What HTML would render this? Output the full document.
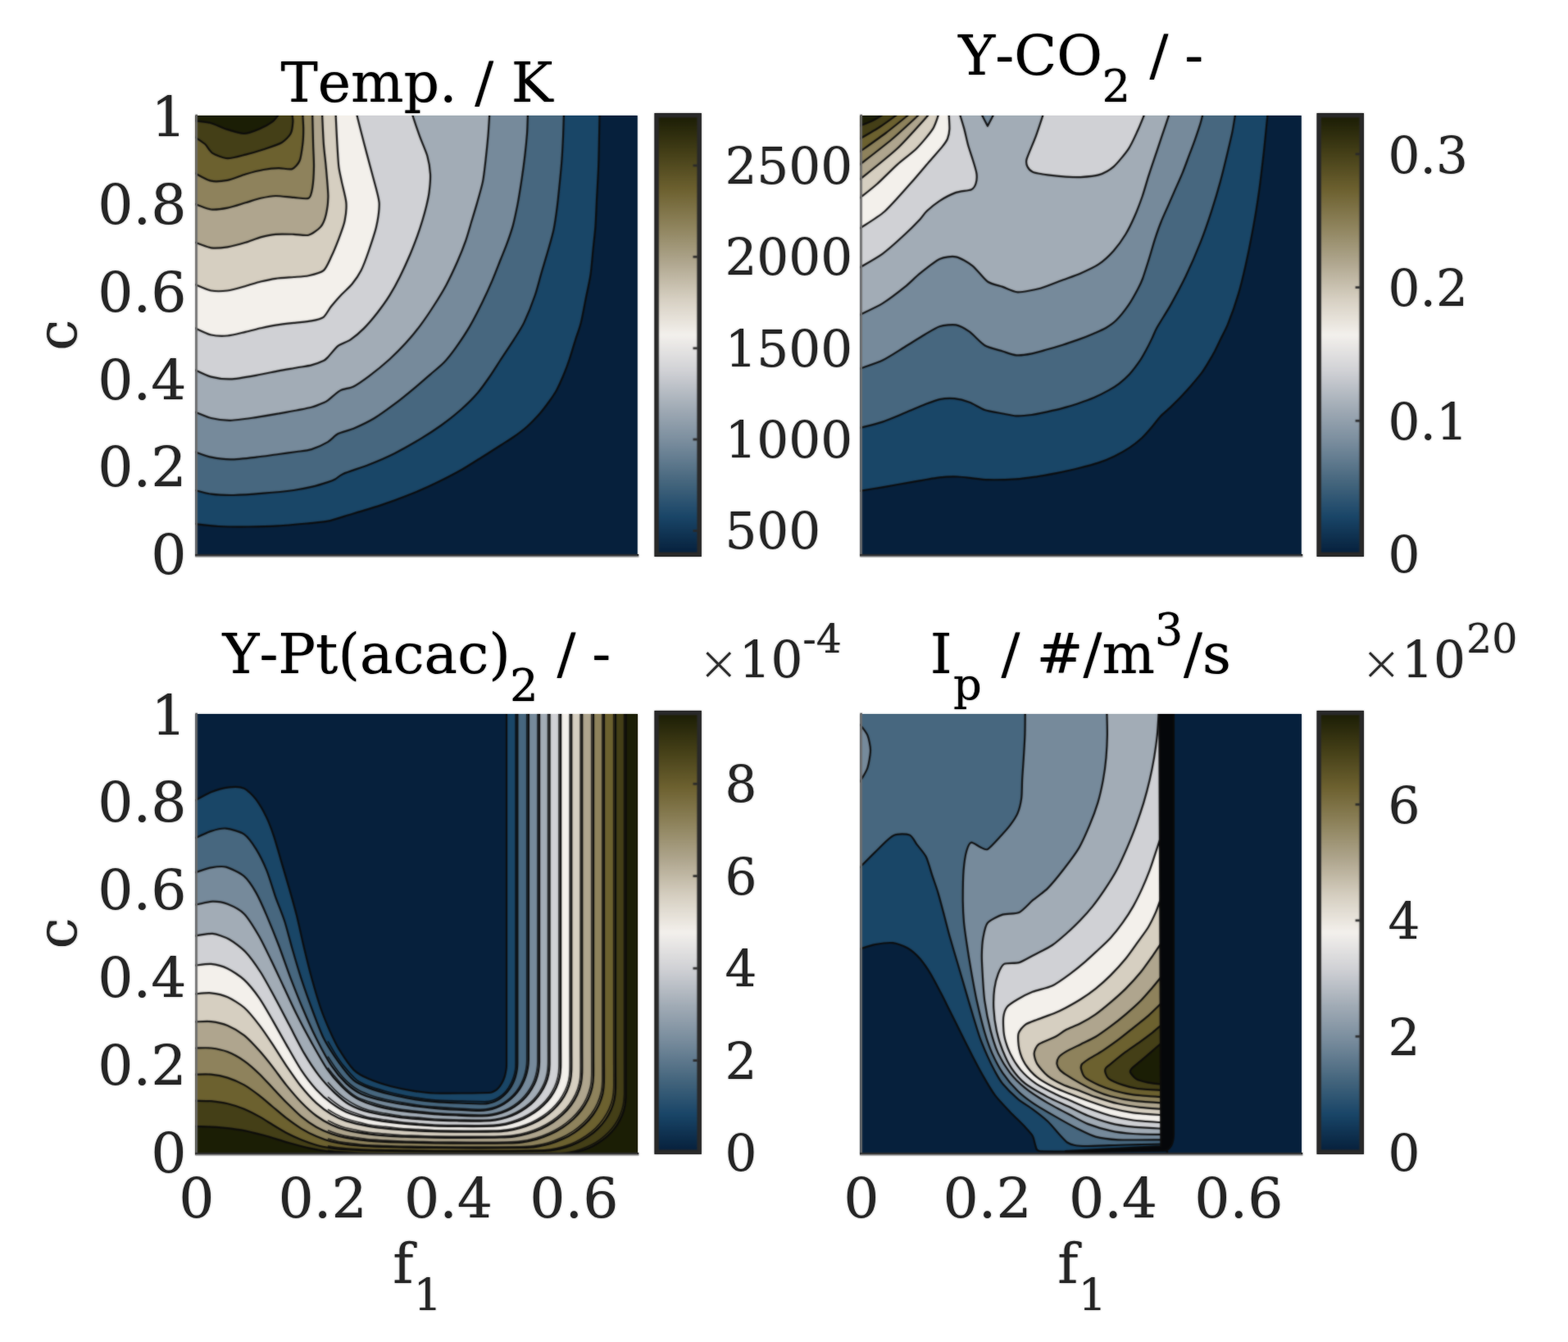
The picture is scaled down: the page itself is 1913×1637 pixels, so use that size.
<!DOCTYPE html>
<html lang="en"><head><meta charset="utf-8"><title>Flamelet tables</title>
<style>
html,body{margin:0;padding:0;background:#fff;}
body{width:1913px;height:1637px;overflow:hidden;}
svg{display:block;}
#soft{filter:blur(1px);opacity:0.6;}
text{font-family:"DejaVu Serif","Liberation Serif",serif;font-kerning:none;}
.t{fill:#000;font-size:68px;}
.k{fill:#262626;font-size:68px;}
.c{font-size:61.2px;}
.s{font-size:54.4px;}
.s2{font-size:49px;}
.x{font-family:"DejaVu Sans Light","DejaVu Sans","Liberation Sans",sans-serif;font-size:59px;fill:#2e2e2e;}
.f path{stroke:#0b0b0b;stroke-width:2.20;stroke-linejoin:round;}
</style></head><body>
<svg xmlns="http://www.w3.org/2000/svg" width="1913" height="1637" viewBox="0 0 1913 1637">
<defs>
<linearGradient id="cb" x1="0" y1="1" x2="0" y2="0"><stop offset="0.0000" stop-color="#07213D"/><stop offset="0.0833" stop-color="#1A4668"/><stop offset="0.1667" stop-color="#48687F"/><stop offset="0.2500" stop-color="#778B9C"/><stop offset="0.3333" stop-color="#A2ACB6"/><stop offset="0.4167" stop-color="#D0D1D5"/><stop offset="0.5000" stop-color="#F3F0EC"/><stop offset="0.5833" stop-color="#D6CFC1"/><stop offset="0.6667" stop-color="#AFA68E"/><stop offset="0.7500" stop-color="#8E835C"/><stop offset="0.8333" stop-color="#6D6130"/><stop offset="0.9167" stop-color="#454018"/><stop offset="1.0000" stop-color="#1C1E06"/></linearGradient>
<clipPath id="cp0"><rect x="238.3" y="141.1" width="539.5" height="537.6"/></clipPath>
<clipPath id="cp1"><rect x="1049.3" y="141.1" width="538.5" height="537.6"/></clipPath>
<clipPath id="cp2"><rect x="238.3" y="871.1" width="539.5" height="537.5"/></clipPath>
<clipPath id="cp3"><rect x="1049.3" y="871.1" width="538.5" height="537.5"/></clipPath>
</defs>
<rect width="1913" height="1637" fill="#fff"/>
<g id="all">
<g class="f" clip-path="url(#cp0)">
<rect x="238.3" y="139.6" width="539.5" height="539.1" fill="#07213D" stroke="none"/>
<path fill="#1A4668" d="M233.3,639.2L238.3,639.2C241.9,639.6 258.6,641.6 266.7,642.0C274.8,642.4 294.1,642.6 303.3,642.5C312.5,642.4 330.8,641.9 340.0,641.4C349.2,640.9 369.1,639.0 376.6,638.3C384.1,637.6 393.9,637.0 400.0,635.7C406.1,634.4 417.3,630.6 425.1,628.2C432.9,625.9 453.3,620.0 462.7,616.9C472.1,613.8 491.8,606.6 500.4,603.1C509.0,599.6 523.9,593.1 531.7,589.3C539.5,585.5 556.0,577.0 563.1,573.0C570.2,569.0 582.2,561.2 588.2,557.5C594.2,553.8 606.2,546.1 611.0,543.0C615.8,539.9 622.6,535.8 626.6,533.0C630.6,530.2 639.0,524.0 642.9,520.5C646.8,517.0 654.4,509.1 657.9,505.2C661.4,501.3 667.9,492.6 670.5,489.0C673.1,485.4 676.9,479.9 679.0,476.0C681.1,472.1 685.5,462.2 687.5,457.5C689.5,452.8 693.0,443.4 694.8,438.0C696.6,432.6 700.4,419.9 702.1,414.3C703.9,408.7 707.1,400.2 708.8,393.4C710.5,386.6 714.0,367.3 715.5,360.0C717.0,352.7 719.5,341.9 720.5,335.0C721.5,328.1 722.8,312.3 723.5,305.0C724.2,297.7 725.8,284.7 726.4,276.6C727.0,268.5 727.7,249.2 728.2,240.0C728.7,230.8 729.8,212.5 730.1,203.3C730.5,194.1 730.8,174.7 731.0,166.7C731.2,158.7 731.4,143.0 731.5,139.6L731.5,134.6L233.3,134.6Z"/>
<path fill="#48687F" d="M233.3,598.0L238.3,598.0C240.7,598.6 251.7,601.9 257.5,602.6C263.3,603.4 277.0,604.1 285.0,604.0C293.0,603.9 312.4,602.5 321.6,601.7C330.8,601.0 351.0,599.0 358.3,598.0C365.6,597.0 374.8,595.1 380.0,593.9C385.2,592.7 396.4,589.3 400.0,588.1C403.6,586.9 406.6,585.8 409.0,584.5C411.4,583.2 413.7,580.2 418.8,578.0C423.9,575.8 442.3,569.8 450.2,566.7C458.1,563.6 473.8,556.8 481.6,552.9C489.4,549.0 505.8,539.6 512.9,535.4C519.9,531.2 531.7,523.5 538.0,519.0C544.3,514.5 557.5,504.0 563.1,499.0C568.7,494.0 578.8,483.9 583.0,479.0C587.2,474.1 593.6,464.9 597.0,460.0C600.4,455.1 606.3,445.7 610.0,440.0C613.7,434.3 623.2,420.1 626.9,414.3C630.6,408.5 636.2,400.2 639.4,393.4C642.6,386.6 650.2,367.6 652.8,360.0C655.4,352.4 658.5,339.8 660.5,333.0C662.5,326.2 666.6,312.6 668.5,306.0C670.4,299.4 674.1,287.0 675.5,280.0C676.9,273.0 679.1,257.3 680.0,250.0C680.9,242.7 682.3,228.6 683.0,221.6C683.7,214.6 685.0,201.0 685.5,194.1C686.0,187.2 686.7,173.5 687.0,166.7C687.3,159.9 687.8,143.0 687.9,139.6L687.9,134.6L233.3,134.6Z"/>
<path fill="#778B9C" d="M233.3,551.3L238.3,551.3C240.7,552.1 252.1,556.6 257.5,557.7C262.9,558.8 274.4,560.4 281.3,560.4C288.2,560.4 305.2,558.5 312.5,557.7C319.8,556.9 333.8,554.8 340.0,554.0C346.2,553.2 357.0,551.7 362.0,551.0C367.0,550.3 375.2,549.6 380.0,548.1C384.8,546.6 395.9,541.5 400.0,539.1C404.1,536.7 408.6,531.1 412.5,529.1C416.4,527.1 425.9,525.1 431.4,522.8C436.9,520.4 450.2,514.1 456.5,510.3C462.8,506.5 475.3,497.4 481.6,492.7C487.9,488.0 501.1,477.2 506.6,472.6C512.1,468.1 521.1,460.1 525.5,456.3C529.9,452.5 537.9,446.1 541.8,442.0C545.7,437.9 552.9,428.6 556.8,423.1C560.7,417.6 569.2,404.8 573.1,398.1C577.0,391.4 584.7,376.3 588.2,369.2C591.7,362.1 598.0,348.2 600.8,341.6C603.6,335.0 608.6,322.0 610.8,316.5C613.0,311.0 616.4,302.9 618.3,297.7C620.2,292.5 624.1,281.2 625.8,275.1C627.4,269.0 630.1,256.2 631.5,249.1C632.9,242.0 635.5,225.3 636.6,218.0C637.7,210.7 639.5,197.4 640.3,190.5C641.1,183.6 642.5,169.4 643.0,163.0C643.5,156.6 643.8,142.5 643.9,139.6L643.9,134.6L233.3,134.6Z"/>
<path fill="#A2ACB6" d="M233.3,502.7L238.3,502.7C240.7,503.6 252.1,508.7 257.5,510.0C262.9,511.3 274.4,512.9 281.3,512.8C288.2,512.7 305.2,510.1 312.5,509.1C319.8,508.1 333.8,505.6 340.0,504.5C346.2,503.4 357.0,501.5 362.0,500.5C367.0,499.5 375.9,497.9 380.0,496.8C384.1,495.7 392.2,492.4 394.7,491.3C397.2,490.2 397.4,490.2 400.0,488.3C402.6,486.4 411.2,478.5 415.1,476.4C419.0,474.3 427.0,473.6 431.4,471.4C435.8,469.2 444.7,462.9 450.2,458.8C455.7,454.7 469.7,443.3 475.3,438.2C480.9,433.1 490.7,423.3 495.4,418.1C500.1,412.9 508.7,402.4 512.9,396.8C517.1,391.2 525.3,379.1 529.2,373.0C533.1,366.9 540.7,354.6 544.3,347.9C547.9,341.1 555.1,325.8 558.1,319.0C561.1,312.2 565.9,300.2 568.1,293.9C570.3,287.6 574.0,274.4 575.7,268.8C577.4,263.2 579.9,255.0 581.6,249.1C583.3,243.2 587.6,228.5 589.0,221.6C590.4,214.7 591.8,201.0 592.6,194.1C593.4,187.2 594.8,173.5 595.4,166.7C596.0,159.9 597.0,143.0 597.2,139.6L597.2,134.6L233.3,134.6Z"/>
<path fill="#D0D1D5" d="M233.3,451.4L238.3,451.4C240.7,452.4 252.1,458.2 257.5,459.6C262.9,461.0 274.4,462.6 281.3,462.4C288.2,462.2 305.2,459.1 312.5,457.8C319.8,456.5 333.8,453.5 340.0,452.3C346.2,451.1 357.0,449.4 362.0,448.5C367.0,447.6 375.9,446.5 380.0,445.4C384.1,444.3 392.2,441.2 394.7,440.0C397.2,438.8 397.8,438.0 400.0,435.7C402.2,433.4 409.1,424.6 412.5,421.9C415.9,419.2 423.7,417.1 427.6,414.4C431.5,411.7 439.8,404.7 443.9,400.6C448.0,396.5 456.3,386.7 460.2,381.7C464.1,376.7 471.9,365.9 475.3,360.4C478.8,354.9 484.7,344.1 487.8,337.8C490.9,331.5 497.7,316.5 500.4,310.2C503.1,303.9 507.3,292.8 509.2,287.6C511.1,282.4 514.0,273.5 515.4,268.8C516.8,264.1 519.5,254.2 520.5,250.0C521.5,245.8 522.9,239.7 523.5,235.0C524.1,230.3 525.3,218.1 525.0,212.5C524.7,206.9 523.0,196.2 521.4,190.5C519.8,184.8 514.5,173.1 512.2,166.7C509.9,160.3 504.1,143.0 503.0,139.6L503.0,134.6L233.3,134.6Z"/>
<path fill="#F3F0EC" d="M233.3,400.3L238.3,400.3C240.7,401.3 252.6,407.4 257.5,408.5C262.4,409.6 272.3,409.9 277.6,409.5C282.9,409.1 294.6,406.0 299.6,404.9C304.7,403.8 313.4,401.3 318.0,400.3C322.6,399.3 331.3,397.4 336.3,396.6C341.3,395.8 352.8,394.5 358.3,393.9C363.8,393.2 375.4,392.3 380.0,391.4C384.6,390.5 391.7,389.0 394.7,386.8C397.7,384.6 401.1,377.4 403.8,374.0C406.6,370.6 413.5,362.7 416.7,359.3C419.9,355.9 426.5,350.2 429.5,346.5C432.5,342.8 437.9,335.1 440.5,330.0C443.1,324.9 447.6,312.7 449.9,306.0C452.2,299.3 457.5,283.7 459.1,276.6C460.7,269.5 462.7,254.8 462.7,249.1C462.7,243.4 460.5,236.5 459.1,230.8C457.7,225.1 453.5,210.2 451.7,203.3C449.9,196.4 446.5,183.8 444.4,175.8C442.3,167.8 436.3,144.1 435.2,139.6L435.2,134.6L233.3,134.6Z"/>
<path fill="#D6CFC1" d="M233.3,347.2L238.3,347.2C240.7,348.1 252.6,353.6 257.5,354.5C262.4,355.4 272.3,355.2 277.6,354.5C282.9,353.8 294.6,350.4 299.6,349.0C304.7,347.6 313.4,344.6 318.0,343.5C322.6,342.4 331.3,340.5 336.3,339.8C341.3,339.1 353.3,338.4 358.3,338.0C363.3,337.6 372.0,337.2 376.6,336.2C381.2,335.2 391.5,332.7 394.9,329.8C398.3,326.9 401.8,318.1 404.1,313.3C406.4,308.5 411.2,296.8 413.3,291.3C415.4,285.8 419.5,274.8 420.6,269.3C421.7,263.8 422.9,253.3 422.4,247.3C421.9,241.3 418.0,227.1 416.9,221.6C415.8,216.1 414.0,209.0 413.3,203.3C412.6,197.6 411.9,183.8 411.4,175.8C410.9,167.8 409.8,144.1 409.6,139.6L409.6,134.6L233.3,134.6Z"/>
<path fill="#AFA68E" d="M233.3,295.8L238.3,295.8C240.7,296.6 252.6,301.6 257.5,302.3C262.4,303.0 272.3,302.1 277.6,301.3C282.9,300.5 294.6,297.3 299.6,295.8C304.7,294.3 313.4,290.6 318.0,289.4C322.6,288.1 331.3,286.2 336.3,285.8C341.3,285.4 353.3,285.7 358.3,285.8C363.3,285.9 372.5,287.8 376.6,286.7C380.7,285.6 388.7,279.7 391.3,276.6C393.9,273.5 396.6,266.5 397.7,261.9C398.8,257.3 400.4,247.3 400.4,240.0C400.4,232.7 398.4,211.3 397.7,203.3C397.0,195.3 395.5,183.8 394.9,175.8C394.3,167.8 393.3,144.1 393.1,139.6L393.1,134.6L233.3,134.6Z"/>
<path fill="#8E835C" d="M233.3,249.1L238.3,249.1C240.7,249.9 252.6,254.9 257.5,255.5C262.4,256.1 272.3,254.7 277.6,253.7C282.9,252.7 294.6,248.8 299.6,247.3C304.7,245.8 313.4,242.8 318.0,241.8C322.6,240.8 331.3,239.1 336.3,239.0C341.3,238.9 353.3,240.6 358.3,240.9C363.3,241.2 373.7,243.3 376.6,241.8C379.5,240.3 380.4,233.8 381.2,229.0C382.0,224.2 382.9,210.0 383.0,203.3C383.1,196.7 382.3,183.8 382.1,175.8C381.9,167.8 381.3,144.1 381.2,139.6L381.2,134.6L233.3,134.6Z"/>
<path fill="#6D6130" d="M233.3,211.5L238.3,211.5C240.7,212.7 252.6,219.7 257.5,220.7C262.4,221.7 272.3,220.8 277.6,219.8C282.9,218.8 294.1,214.1 299.6,212.5C305.1,210.9 316.6,207.9 321.6,207.0C326.7,206.1 335.6,205.2 340.0,205.1C344.4,205.0 353.2,207.2 356.4,206.1C359.6,205.0 364.0,199.8 365.6,196.0C367.2,192.2 368.7,180.6 369.3,175.8C369.9,171.0 370.2,162.0 370.2,157.5C370.2,153.0 369.4,141.8 369.3,139.6L369.3,134.6L233.3,134.6Z"/>
<path fill="#454018" d="M233.3,167.6L238.3,167.6C239.8,168.6 247.6,173.4 250.2,175.8C252.8,178.2 255.9,184.6 259.3,186.8C262.7,189.0 272.6,193.0 277.6,193.2C282.6,193.4 294.1,190.0 299.6,188.6C305.1,187.2 316.1,184.0 321.6,182.2C327.1,180.4 339.5,176.4 343.6,174.0C347.7,171.6 352.9,166.2 354.6,163.0C356.3,159.8 357.2,151.2 357.4,148.3C357.6,145.4 356.5,140.7 356.4,139.6L356.4,134.6L233.3,134.6Z"/>
<path fill="#1C1E06" d="M233.3,147.4L238.3,147.4C240.7,147.8 252.8,148.9 257.5,150.2C262.2,151.5 270.8,155.9 275.8,157.5C280.8,159.1 292.8,163.0 297.8,163.0C302.8,163.0 311.8,159.3 316.1,157.5C320.5,155.7 329.6,150.5 332.6,148.3C335.6,146.1 339.1,140.7 340.0,139.6L340.0,134.6L233.3,134.6Z"/>
</g>
<path d="M239.6,139.7V678.7" fill="none" stroke="#6e6e6e" stroke-width="2.6"/>
<path d="M238.3,679.0H779.4" fill="none" stroke="#b4b4b4" stroke-width="1.6"/>
<path d="M238.3,677.2H779.2" fill="none" stroke="#2a2a2a" stroke-width="2.2"/>
<g class="f" clip-path="url(#cp1)">
<rect x="1049.3" y="139.6" width="538.5" height="539.1" fill="#07213D" stroke="none"/>
<path fill="#1A4668" d="M1044.3,598.9L1049.3,598.9C1052.7,598.3 1068.7,595.7 1076.7,594.3C1084.7,592.9 1104.6,589.4 1113.3,587.9C1122.0,586.4 1139.4,583.2 1146.3,582.4C1153.2,581.6 1163.3,581.4 1168.3,581.5C1173.3,581.6 1182.0,582.8 1186.6,583.3C1191.2,583.8 1198.2,585.1 1204.9,585.2C1211.6,585.3 1232.5,584.9 1240.0,584.4C1247.5,583.9 1258.8,582.2 1265.1,581.3C1271.4,580.4 1283.9,578.1 1290.2,576.9C1296.5,575.6 1309.0,572.9 1315.3,571.3C1321.6,569.7 1334.9,566.2 1340.4,564.4C1345.9,562.6 1354.5,559.1 1359.2,556.8C1363.9,554.5 1373.8,549.0 1378.0,546.2C1382.2,543.4 1389.6,537.5 1393.1,534.3C1396.5,531.1 1402.8,523.8 1405.6,520.5C1408.4,517.2 1412.9,510.9 1415.7,507.9C1418.5,504.9 1425.1,499.6 1428.2,496.6C1431.3,493.6 1437.7,487.4 1440.8,484.1C1443.9,480.8 1450.2,473.9 1453.3,470.3C1456.4,466.7 1463.1,458.8 1465.8,455.2C1468.5,451.6 1472.6,444.7 1474.6,441.4C1476.6,438.1 1480.1,432.1 1482.0,428.5C1483.9,424.9 1487.5,417.1 1489.5,413.0C1491.5,408.9 1495.2,402.4 1497.9,395.7C1500.6,389.0 1508.0,368.3 1510.7,359.1C1513.5,349.9 1517.6,332.7 1519.9,322.4C1522.2,312.1 1527.0,288.1 1529.1,276.6C1531.2,265.2 1534.8,242.2 1536.4,230.8C1538.0,219.4 1540.6,196.4 1541.9,185.0C1543.2,173.6 1545.9,145.3 1546.5,139.6L1546.5,134.6L1044.3,134.6Z"/>
<path fill="#48687F" d="M1044.3,521.9L1049.3,521.9C1052.7,521.0 1069.9,516.9 1076.7,514.6C1083.5,512.3 1097.7,506.2 1104.1,503.6C1110.5,501.0 1122.7,495.6 1128.0,493.5C1133.3,491.4 1141.7,488.0 1146.3,487.1C1150.9,486.2 1160.0,485.7 1164.6,486.2C1169.2,486.7 1178.3,489.1 1182.9,490.8C1187.5,492.5 1196.2,498.3 1201.3,500.0C1206.3,501.7 1218.5,503.6 1223.3,504.5C1228.1,505.4 1235.6,507.1 1240.0,507.3C1244.4,507.5 1254.1,506.6 1258.8,506.0C1263.5,505.4 1272.9,503.3 1277.6,502.3C1282.3,501.3 1291.8,499.2 1296.5,497.9C1301.2,496.6 1310.6,493.8 1315.3,492.2C1320.0,490.6 1329.4,487.3 1334.1,485.3C1338.8,483.3 1349.0,478.1 1352.9,475.9C1356.8,473.7 1362.4,470.2 1365.5,467.8C1368.6,465.4 1374.9,459.9 1378.0,456.5C1381.1,453.1 1387.9,444.1 1390.6,440.2C1393.3,436.3 1397.4,428.6 1399.3,425.1C1401.2,421.6 1404.1,415.6 1405.6,412.5C1407.1,409.4 1408.5,405.1 1411.3,400.0C1414.1,394.9 1423.9,379.8 1428.3,371.9C1432.7,364.0 1442.0,346.7 1446.6,337.1C1451.2,327.5 1461.0,304.8 1464.9,294.9C1468.8,285.0 1474.8,267.5 1477.8,258.3C1480.8,249.1 1486.3,230.8 1488.8,221.6C1491.3,212.4 1496.1,192.6 1497.9,185.0C1499.7,177.4 1502.2,166.9 1503.4,161.2C1504.6,155.5 1506.6,142.3 1507.1,139.6L1507.1,134.6L1044.3,134.6Z"/>
<path fill="#778B9C" d="M1044.3,449.6L1049.3,449.6C1052.7,448.3 1069.9,442.8 1076.7,439.5C1083.5,436.2 1097.7,426.9 1104.1,423.0C1110.5,419.1 1122.7,411.4 1128.0,408.3C1133.3,405.2 1141.5,399.7 1146.3,398.2C1151.1,396.7 1161.8,395.6 1166.4,396.4C1171.0,397.2 1178.5,401.6 1182.9,404.7C1187.3,407.8 1196.2,418.2 1201.3,421.2C1206.3,424.2 1218.5,427.0 1223.3,428.5C1228.1,430.0 1235.6,432.9 1240.0,433.3C1244.4,433.7 1254.1,432.3 1258.8,431.4C1263.5,430.5 1272.9,427.6 1277.6,426.3C1282.3,425.0 1291.8,422.2 1296.5,420.7C1301.2,419.2 1310.6,416.1 1315.3,414.4C1320.0,412.7 1329.9,408.7 1334.1,406.9C1338.3,405.1 1345.7,402.1 1349.2,400.0C1352.7,397.9 1358.5,394.0 1362.0,390.5C1365.5,387.0 1373.7,376.7 1377.0,371.9C1380.3,367.1 1386.4,356.0 1388.5,352.0C1390.6,348.0 1392.4,344.4 1394.0,340.0C1395.6,335.6 1399.6,322.9 1401.5,316.9C1403.4,310.9 1407.1,297.6 1409.0,291.8C1410.9,286.0 1414.5,275.7 1416.6,270.5C1418.6,265.3 1423.2,255.4 1425.4,250.4C1427.6,245.4 1431.9,235.4 1434.1,230.4C1436.3,225.4 1440.9,215.3 1442.9,210.3C1445.0,205.3 1448.6,195.2 1450.5,190.2C1452.4,185.2 1456.3,175.0 1458.0,170.1C1459.7,165.2 1463.1,155.1 1464.3,151.3C1465.5,147.5 1467.0,141.1 1467.4,139.6L1467.4,134.6L1044.3,134.6Z"/>
<path fill="#A2ACB6" d="M1044.3,383.8L1049.3,383.8C1052.7,382.1 1069.9,374.3 1076.7,370.1C1083.5,365.9 1098.4,354.5 1104.1,349.9C1109.8,345.3 1117.2,337.6 1122.5,333.4C1127.8,329.2 1140.8,318.5 1146.3,316.0C1151.8,313.5 1161.4,312.3 1166.4,313.3C1171.4,314.3 1181.8,320.5 1186.6,324.3C1191.4,328.1 1200.3,340.3 1204.9,343.5C1209.5,346.7 1218.7,348.3 1223.3,349.9C1227.9,351.5 1235.9,356.1 1241.6,356.3C1247.3,356.5 1262.2,353.6 1269.1,351.7C1276.0,349.8 1290.4,343.8 1296.6,341.5C1302.8,339.2 1312.8,335.8 1318.3,333.4C1323.8,331.0 1335.3,325.8 1340.3,322.4C1345.3,319.0 1354.5,310.5 1358.6,305.9C1362.7,301.3 1370.1,291.1 1373.3,285.8C1376.5,280.5 1381.8,269.5 1384.3,263.8C1386.8,258.1 1391.4,246.0 1393.5,240.0C1395.6,234.0 1399.0,221.8 1400.8,216.1C1402.6,210.4 1406.0,200.3 1408.1,194.1C1410.2,187.9 1415.0,173.5 1417.3,166.7C1419.6,159.9 1425.3,143.0 1426.4,139.6L1426.4,134.6L1044.3,134.6Z"/>
<path fill="#778B9C" d="M1197.6,134.6L1197.6,139.6L1204.9,153.8L1212.3,139.6L1212.3,134.6Z"/>
<path fill="#D0D1D5" d="M1044.3,326.1L1049.3,326.1C1052.7,324.0 1069.9,314.6 1076.7,309.6C1083.5,304.6 1098.4,291.1 1104.1,285.8C1109.8,280.5 1119.2,270.9 1122.5,267.4C1125.8,263.9 1127.3,260.8 1130.2,258.0C1133.1,255.2 1141.5,248.2 1145.9,245.3C1150.3,242.4 1160.6,236.9 1165.5,235.1C1170.4,233.3 1182.0,232.6 1185.1,231.2C1188.2,229.8 1189.7,226.4 1190.5,224.0C1191.3,221.6 1191.9,215.4 1191.5,212.0C1191.1,208.6 1188.7,201.1 1187.4,196.7C1186.1,192.3 1182.5,181.9 1181.1,177.0C1179.7,172.1 1177.7,162.1 1176.4,157.4C1175.1,152.7 1171.7,141.8 1171.0,139.6L1171.0,134.6L1044.3,134.6Z"/>
<path fill="#D0D1D5" d="M1272.7,134.6L1272.7,139.6C1271.6,143.0 1266.1,159.9 1263.6,166.7C1261.1,173.5 1253.9,189.5 1252.6,194.1C1251.3,198.7 1252.6,201.4 1253.5,203.3C1254.4,205.2 1256.8,208.4 1259.9,209.7C1263.0,211.0 1273.2,212.7 1278.2,213.4C1283.2,214.1 1295.0,215.3 1300.0,215.6C1305.0,215.9 1313.3,216.4 1318.3,216.1C1323.3,215.8 1335.3,215.0 1340.3,213.4C1345.3,211.8 1354.0,207.3 1358.6,203.3C1363.2,199.3 1373.3,186.8 1377.0,181.3C1380.7,175.8 1385.6,164.5 1388.0,159.3C1390.4,154.1 1395.2,142.1 1396.2,139.6L1396.2,134.6Z"/>
<path fill="#F3F0EC" d="M1044.3,278.4L1049.3,278.4C1053.0,275.8 1071.5,264.8 1079.2,258.0C1086.9,251.2 1103.7,231.8 1110.6,224.1C1117.5,216.4 1129.2,202.4 1134.1,196.7C1139.0,191.0 1147.1,182.0 1149.8,178.6C1152.5,175.2 1154.9,171.8 1156.0,169.2C1157.1,166.5 1158.2,161.1 1158.4,157.4C1158.6,153.7 1157.7,141.8 1157.6,139.6L1157.6,134.6L1044.3,134.6Z"/>
<path fill="#D6CFC1" d="M1044.3,241.3L1049.3,241.3C1051.9,239.2 1064.3,229.6 1070.0,224.5C1075.7,219.4 1088.9,206.0 1094.9,200.6C1101.0,195.2 1113.0,186.4 1118.4,181.0C1123.8,175.6 1134.7,162.6 1138.0,157.4C1141.3,152.2 1144.2,141.8 1145.1,139.6L1145.1,134.6L1044.3,134.6Z"/>
<path fill="#AFA68E" d="M1044.3,218.6L1049.3,218.6C1055.0,213.9 1084.4,190.9 1094.9,181.0C1105.4,171.1 1128.5,144.8 1133.3,139.6L1133.3,134.6L1044.3,134.6Z"/>
<path fill="#8E835C" d="M1044.3,200.6L1049.3,200.6C1054.1,196.8 1079.0,177.6 1088.0,170.0C1097.0,162.4 1117.3,143.4 1121.5,139.6L1121.5,134.6L1044.3,134.6Z"/>
<path fill="#6D6130" d="M1044.3,184.9L1049.3,184.9C1053.3,182.0 1073.5,167.7 1081.0,162.0C1088.5,156.3 1105.5,142.4 1109.0,139.6L1109.0,134.6L1044.3,134.6Z"/>
<path fill="#454018" d="M1044.3,169.2L1049.3,169.2C1052.4,167.4 1068.3,158.2 1074.0,154.5C1079.7,150.8 1092.3,141.5 1094.9,139.6L1094.9,134.6L1044.3,134.6Z"/>
<path fill="#1C1E06" d="M1044.3,153.5L1049.3,153.5C1051.3,152.7 1061.5,148.7 1065.0,147.0C1068.5,145.3 1076.0,140.5 1077.6,139.6L1077.6,134.6L1044.3,134.6Z"/>
</g>
<path d="M1050.6,139.7V678.7" fill="none" stroke="#6e6e6e" stroke-width="2.6"/>
<path d="M1049.3,679.0H1589.4" fill="none" stroke="#b4b4b4" stroke-width="1.6"/>
<path d="M1049.3,677.2H1589.2" fill="none" stroke="#2a2a2a" stroke-width="2.2"/>
<g class="f" clip-path="url(#cp2)">
<rect x="238.3" y="869.6" width="539.5" height="539.0" fill="#07213D" stroke="none"/>
<path fill="#1A4668" d="M233.3,976.4L238.3,976.4C240.7,975.1 252.3,968.3 257.5,966.3C262.6,964.3 274.5,961.0 279.5,960.4C284.5,959.8 293.7,959.8 297.8,961.7C301.9,963.6 309.1,970.9 312.5,975.4C315.9,979.9 322.6,991.7 325.3,997.4C328.1,1003.1 332.2,1014.4 334.5,1021.3C336.8,1028.2 341.3,1044.6 343.6,1052.4C345.9,1060.2 350.5,1075.6 352.8,1083.6C355.1,1091.6 359.6,1107.5 361.9,1116.6C364.2,1125.7 368.8,1147.1 371.1,1156.7C373.4,1166.3 377.8,1184.1 380.3,1193.3C382.8,1202.5 388.6,1222.0 391.3,1230.0C394.1,1238.0 399.6,1251.2 402.3,1257.4C405.1,1263.6 409.6,1273.4 413.3,1279.4C417.0,1285.4 427.0,1300.5 431.6,1305.1C436.2,1309.7 444.2,1313.6 449.9,1316.1C455.6,1318.6 470.5,1323.5 477.4,1325.3C484.3,1327.1 498.3,1329.8 504.9,1330.8C511.5,1331.8 522.7,1333.2 530.0,1333.5C537.3,1333.8 554.8,1333.6 563.0,1333.5C571.2,1333.5 591.4,1333.1 596.0,1333.0C600.6,1332.9 598.9,1332.8 599.8,1332.5C600.7,1332.2 602.6,1331.3 603.5,1330.8C604.4,1330.3 606.2,1329.0 607.0,1328.2C607.8,1327.4 609.4,1325.6 610.1,1324.6C610.8,1323.6 612.3,1321.3 612.9,1320.1C613.5,1318.9 614.6,1316.3 615.1,1315.0C615.6,1313.7 616.4,1310.8 616.7,1309.3C617.0,1307.8 617.5,1304.8 617.7,1303.3C617.9,1301.8 618.0,1302.8 618.0,1297.0C618.0,1291.2 618.0,1283.7 618.0,1257.0C618.0,1230.3 618.0,1131.7 618.0,1083.3C618.0,1034.9 618.0,896.3 618.0,869.6L618.0,864.6L782.8,864.6L782.8,1413.6L233.3,1413.6Z"/>
<path fill="#48687F" d="M233.3,1022.2L238.3,1022.2C240.7,1021.2 252.8,1015.4 257.5,1013.9C262.2,1012.4 270.8,1010.1 275.8,1010.6C280.8,1011.1 293.2,1014.4 297.8,1017.6C302.4,1020.8 309.1,1030.4 312.5,1035.9C315.9,1041.4 322.3,1054.3 325.3,1061.6C328.3,1068.9 333.6,1086.8 336.3,1094.6C339.1,1102.4 344.8,1116.2 347.3,1124.0C349.8,1131.8 353.9,1148.0 356.4,1156.7C358.9,1165.4 364.4,1184.1 367.4,1193.3C370.4,1202.5 376.9,1220.8 380.3,1230.0C383.7,1239.2 390.8,1258.4 394.9,1266.6C399.0,1274.8 408.7,1289.5 413.3,1295.9C417.9,1302.3 427.0,1314.0 431.6,1317.9C436.2,1321.8 444.2,1324.9 449.9,1327.1C455.6,1329.3 470.5,1333.6 477.4,1335.3C484.3,1337.0 498.3,1339.7 504.9,1340.8C511.5,1341.9 523.2,1343.3 530.0,1343.9C536.8,1344.5 552.2,1345.2 559.6,1345.5C567.1,1345.8 584.7,1346.5 589.3,1346.5C593.9,1346.5 594.8,1346.1 596.6,1345.7C598.4,1345.3 602.0,1344.2 603.7,1343.5C605.4,1342.8 608.7,1340.9 610.3,1339.8C611.9,1338.7 614.9,1336.2 616.3,1334.8C617.7,1333.4 620.3,1330.3 621.5,1328.6C622.7,1326.9 624.8,1323.4 625.7,1321.5C626.6,1319.6 628.2,1315.6 628.8,1313.6C629.4,1311.6 630.4,1307.3 630.7,1305.2C631.0,1303.1 631.2,1302.6 631.3,1296.5C631.4,1290.4 631.3,1283.2 631.3,1256.5C631.3,1229.8 631.3,1131.4 631.3,1083.0C631.3,1034.7 631.3,896.3 631.3,869.6L631.3,864.6L782.8,864.6L782.8,1413.6L233.3,1413.6Z"/>
<path fill="#778B9C" d="M233.3,1064.3L238.3,1064.3C240.7,1063.5 252.8,1059.1 257.5,1058.3C262.2,1057.5 270.8,1056.3 275.8,1057.6C280.8,1058.9 293.2,1065.0 297.8,1068.9C302.4,1072.8 309.1,1083.1 312.5,1089.1C315.9,1095.1 321.9,1108.6 325.3,1116.6C328.7,1124.6 336.3,1143.4 340.0,1153.0C343.7,1162.6 350.9,1183.7 354.6,1193.3C358.3,1202.9 365.4,1220.8 369.3,1230.0C373.2,1239.2 381.4,1257.9 385.8,1266.6C390.2,1275.3 399.5,1292.7 404.1,1299.6C408.7,1306.5 417.8,1317.2 422.4,1321.6C427.0,1325.9 435.0,1331.8 440.7,1334.4C446.4,1337.0 460.2,1340.9 468.2,1342.7C476.2,1344.5 497.2,1348.0 504.9,1349.1C512.6,1350.2 523.4,1351.2 530.0,1351.8C536.6,1352.4 550.6,1353.3 557.5,1353.7C564.3,1354.1 580.2,1355.0 584.9,1355.0C589.6,1355.0 592.7,1354.5 595.3,1354.0C597.9,1353.5 602.9,1352.1 605.4,1351.2C607.9,1350.3 612.6,1348.0 614.9,1346.6C617.2,1345.2 621.5,1342.1 623.5,1340.3C625.5,1338.5 629.2,1334.6 630.9,1332.5C632.6,1330.4 635.6,1325.9 636.9,1323.5C638.2,1321.1 640.4,1316.1 641.3,1313.5C642.2,1310.9 643.5,1305.6 644.0,1302.9C644.5,1300.2 644.8,1298.4 644.9,1292.0C645.0,1285.6 644.9,1278.4 644.9,1252.0C644.9,1225.6 644.9,1128.6 644.9,1080.8C644.9,1033.0 644.9,896.0 644.9,869.6L644.9,864.6L782.8,864.6L782.8,1413.6L233.3,1413.6Z"/>
<path fill="#A2ACB6" d="M233.3,1103.7L238.3,1103.7C240.9,1103.2 254.4,1099.8 259.3,1099.7C264.2,1099.6 272.8,1100.9 277.6,1102.8C282.4,1104.7 293.0,1109.8 297.8,1114.7C302.6,1119.6 312.0,1134.9 316.1,1142.0C320.2,1149.1 327.1,1163.7 330.8,1171.3C334.5,1178.9 341.6,1194.2 345.5,1202.5C349.4,1210.8 357.5,1228.6 361.9,1237.3C366.2,1246.0 375.7,1263.8 380.3,1272.1C384.9,1280.3 394.0,1296.6 398.6,1303.3C403.2,1310.0 412.3,1320.7 416.9,1325.3C421.5,1329.9 429.9,1336.9 435.2,1339.9C440.5,1342.9 452.7,1347.3 459.1,1349.1C465.5,1350.9 477.7,1353.3 486.6,1354.6C495.5,1355.8 521.0,1358.3 530.0,1359.1C539.0,1359.8 551.8,1360.3 559.0,1360.6C566.2,1360.9 582.9,1361.5 588.0,1361.5C593.1,1361.5 597.2,1361.0 600.2,1360.5C603.2,1360.0 609.0,1358.5 611.9,1357.5C614.8,1356.5 620.4,1354.1 623.0,1352.7C625.6,1351.3 630.7,1347.9 633.0,1346.1C635.3,1344.2 639.6,1340.1 641.6,1337.9C643.6,1335.7 647.1,1331.0 648.6,1328.5C650.1,1326.0 652.8,1320.8 653.8,1318.1C654.8,1315.4 656.4,1309.8 656.9,1307.0C657.4,1304.2 657.9,1301.9 658.0,1295.5C658.1,1289.1 658.0,1282.1 658.0,1255.5C658.0,1228.9 658.0,1130.8 658.0,1082.5C658.0,1034.3 658.0,896.2 658.0,869.6L658.0,864.6L782.8,864.6L782.8,1413.6L233.3,1413.6Z"/>
<path fill="#D0D1D5" d="M233.3,1141.6L238.3,1141.6C240.9,1141.3 254.2,1138.4 259.3,1138.9C264.4,1139.4 274.5,1142.9 279.5,1145.7C284.5,1148.5 294.8,1156.2 299.6,1161.2C304.4,1166.2 313.6,1179.2 318.0,1186.0C322.4,1192.8 330.1,1207.3 334.5,1215.3C338.9,1223.3 348.2,1241.4 352.8,1250.1C357.4,1258.8 366.5,1277.1 371.1,1284.9C375.7,1292.7 384.8,1306.4 389.4,1312.4C394.0,1318.4 403.2,1328.2 407.8,1332.6C412.4,1336.9 420.8,1344.2 426.1,1347.2C431.4,1350.2 442.3,1354.5 449.9,1356.4C457.5,1358.4 476.6,1361.5 486.6,1362.8C496.6,1364.1 520.8,1365.9 530.0,1366.5C539.2,1367.1 552.7,1367.2 560.2,1367.3C567.8,1367.4 585.0,1367.6 590.5,1367.5C596.0,1367.4 601.0,1367.0 604.4,1366.5C607.8,1366.0 614.6,1364.3 617.9,1363.3C621.2,1362.3 627.5,1359.8 630.5,1358.3C633.5,1356.8 639.2,1353.3 641.9,1351.4C644.6,1349.5 649.6,1345.2 651.8,1342.9C654.0,1340.6 658.1,1335.6 659.8,1333.0C661.5,1330.4 664.5,1324.9 665.7,1322.1C666.9,1319.3 668.7,1313.5 669.3,1310.5C669.9,1307.5 670.4,1305.0 670.5,1298.5C670.6,1292.0 670.5,1285.3 670.5,1258.5C670.5,1231.7 670.5,1132.7 670.5,1084.0C670.5,1035.4 670.5,896.4 670.5,869.6L670.5,864.6L782.8,864.6L782.8,1413.6L233.3,1413.6Z"/>
<path fill="#F3F0EC" d="M233.3,1177.7L238.3,1177.7C240.7,1177.5 252.6,1175.4 257.5,1175.9C262.4,1176.4 272.6,1179.0 277.6,1181.4C282.6,1183.8 293.0,1190.6 297.8,1195.1C302.6,1199.6 311.8,1210.9 316.1,1217.1C320.5,1223.3 328.5,1237.5 332.6,1244.6C336.7,1251.7 344.8,1266.3 349.1,1273.9C353.5,1281.5 362.8,1298.2 367.4,1305.1C372.0,1312.0 381.2,1323.9 385.8,1328.9C390.4,1333.9 399.5,1342.0 404.1,1345.4C408.7,1348.8 416.7,1354.0 422.4,1356.4C428.1,1358.8 441.9,1362.9 449.9,1364.6C457.9,1366.3 476.6,1369.0 486.6,1370.1C496.6,1371.2 520.6,1372.9 530.0,1373.4C539.4,1373.9 554.0,1373.9 562.0,1374.0C570.1,1374.1 588.1,1374.1 594.1,1374.0C600.1,1373.9 605.9,1373.4 609.7,1372.9C613.6,1372.4 621.2,1370.8 624.9,1369.7C628.6,1368.6 635.7,1366.0 639.1,1364.4C642.5,1362.8 649.0,1359.2 652.0,1357.2C655.0,1355.2 660.5,1350.7 663.0,1348.3C665.5,1345.9 670.0,1340.7 672.0,1338.0C674.0,1335.3 677.4,1329.5 678.7,1326.6C680.0,1323.7 682.0,1317.6 682.7,1314.5C683.4,1311.4 683.9,1308.6 684.1,1302.0C684.3,1295.4 684.1,1289.0 684.1,1262.0C684.1,1235.0 684.1,1134.8 684.1,1085.8C684.1,1036.8 684.1,896.6 684.1,869.6L684.1,864.6L782.8,864.6L782.8,1413.6L233.3,1413.6Z"/>
<path fill="#D6CFC1" d="M233.3,1212.5L238.3,1212.5C240.7,1212.3 252.6,1210.8 257.5,1211.3C262.4,1211.8 272.6,1214.0 277.6,1216.2C282.6,1218.4 293.0,1224.8 297.8,1229.0C302.6,1233.2 311.8,1244.5 316.1,1250.1C320.5,1255.7 328.5,1267.7 332.6,1273.9C336.7,1280.1 344.8,1293.2 349.1,1299.6C353.5,1306.0 362.8,1319.6 367.4,1325.3C372.0,1331.0 381.2,1341.2 385.8,1345.4C390.4,1349.6 399.5,1356.3 404.1,1359.1C408.7,1361.8 416.7,1365.6 422.4,1367.4C428.1,1369.2 441.9,1372.5 449.9,1373.8C457.9,1375.1 476.6,1377.2 486.6,1378.0C496.6,1378.8 520.1,1379.9 530.0,1380.2C539.9,1380.5 557.1,1380.6 566.1,1380.6C575.1,1380.7 595.6,1380.7 602.2,1380.5C608.8,1380.3 614.6,1380.0 618.7,1379.4C622.8,1378.8 630.8,1377.1 634.7,1376.0C638.6,1374.9 646.1,1372.1 649.7,1370.5C653.3,1368.9 660.1,1365.1 663.3,1363.0C666.5,1360.9 672.4,1356.2 675.0,1353.7C677.6,1351.2 682.4,1345.8 684.5,1343.0C686.6,1340.2 690.1,1334.3 691.5,1331.2C692.9,1328.1 695.1,1321.7 695.8,1318.5C696.5,1315.3 697.0,1312.1 697.2,1305.5C697.4,1298.9 697.2,1292.7 697.2,1265.5C697.2,1238.3 697.2,1137.0 697.2,1087.5C697.2,1038.1 697.2,896.8 697.2,869.6L697.2,864.6L782.8,864.6L782.8,1413.6L233.3,1413.6Z"/>
<path fill="#AFA68E" d="M233.3,1246.4L238.3,1246.4C240.7,1246.4 252.6,1245.5 257.5,1246.1C262.4,1246.7 272.6,1248.9 277.6,1251.0C282.6,1253.1 293.0,1259.1 297.8,1262.9C302.6,1266.7 311.8,1276.5 316.1,1281.3C320.5,1286.1 328.5,1296.1 332.6,1301.4C336.7,1306.7 344.8,1318.0 349.1,1323.4C353.5,1328.8 362.8,1339.8 367.4,1344.5C372.0,1349.2 381.2,1357.6 385.8,1361.0C390.4,1364.4 399.5,1369.8 404.1,1372.0C408.7,1374.2 416.7,1377.0 422.4,1378.4C428.1,1379.8 441.9,1382.3 449.9,1383.3C457.9,1384.3 476.6,1385.8 486.6,1386.3C496.6,1386.8 519.6,1387.4 530.0,1387.6C540.4,1387.8 560.1,1387.9 570.1,1387.8C580.1,1387.8 603.0,1387.7 610.2,1387.5C617.4,1387.3 623.3,1386.9 627.6,1386.3C631.9,1385.7 640.3,1383.9 644.4,1382.7C648.5,1381.5 656.4,1378.6 660.2,1376.9C664.0,1375.2 671.2,1371.2 674.5,1369.0C677.8,1366.8 684.0,1361.9 686.8,1359.3C689.6,1356.7 694.6,1351.0 696.8,1348.0C699.0,1345.0 702.7,1338.7 704.2,1335.5C705.7,1332.3 708.0,1325.6 708.7,1322.2C709.5,1318.8 710.0,1315.2 710.2,1308.5C710.4,1301.8 710.2,1295.9 710.2,1268.5C710.2,1241.1 710.2,1138.9 710.2,1089.0C710.2,1039.2 710.2,897.0 710.2,869.6L710.2,864.6L782.8,864.6L782.8,1413.6L233.3,1413.6Z"/>
<path fill="#8E835C" d="M233.3,1278.5L238.3,1278.5C240.7,1278.5 252.6,1277.9 257.5,1278.5C262.4,1279.1 272.6,1281.1 277.6,1283.1C282.6,1285.0 293.0,1290.8 297.8,1294.1C302.6,1297.4 311.8,1305.6 316.1,1309.7C320.5,1313.8 328.5,1322.8 332.6,1327.1C336.7,1331.4 344.8,1340.2 349.1,1344.5C353.5,1348.8 362.8,1358.1 367.4,1361.9C372.0,1365.7 381.2,1372.1 385.8,1374.7C390.4,1377.3 399.5,1381.3 404.1,1383.0C408.7,1384.7 416.7,1386.8 422.4,1387.9C428.1,1389.0 441.9,1390.9 449.9,1391.6C457.9,1392.3 476.6,1393.1 486.6,1393.4C496.6,1393.7 519.0,1394.1 530.0,1394.3C541.0,1394.5 563.4,1394.7 574.5,1394.7C585.6,1394.7 611.2,1394.7 619.0,1394.5C626.8,1394.3 632.7,1393.9 637.2,1393.3C641.7,1392.7 650.6,1390.8 654.9,1389.6C659.2,1388.4 667.5,1385.3 671.5,1383.5C675.5,1381.7 683.0,1377.6 686.5,1375.3C690.0,1373.0 696.5,1367.9 699.4,1365.2C702.3,1362.5 707.6,1356.6 709.9,1353.5C712.2,1350.4 716.1,1343.8 717.7,1340.5C719.3,1337.2 721.6,1330.2 722.4,1326.7C723.2,1323.2 723.8,1319.3 724.0,1312.5C724.2,1305.7 724.0,1300.2 724.0,1272.5C724.0,1244.8 724.0,1141.4 724.0,1091.0C724.0,1040.7 724.0,897.3 724.0,869.6L724.0,864.6L782.8,864.6L782.8,1413.6L233.3,1413.6Z"/>
<path fill="#6D6130" d="M233.3,1310.6L238.3,1310.6C240.7,1310.6 252.6,1310.1 257.5,1310.6C262.4,1311.1 272.6,1313.0 277.6,1314.6C282.6,1316.2 293.0,1320.7 297.8,1323.4C302.6,1326.1 311.8,1332.9 316.1,1336.2C320.5,1339.5 328.5,1346.6 332.6,1350.0C336.7,1353.4 344.8,1360.4 349.1,1363.7C353.5,1367.0 362.8,1373.8 367.4,1376.6C372.0,1379.4 381.2,1384.1 385.8,1386.1C390.4,1388.1 399.5,1391.3 404.1,1392.5C408.7,1393.7 416.7,1395.1 422.4,1395.8C428.1,1396.5 441.9,1397.7 449.9,1398.2C457.9,1398.7 476.6,1399.3 486.6,1399.5C496.6,1399.7 517.9,1399.9 530.0,1400.0C542.1,1400.1 570.1,1400.3 583.5,1400.3C596.8,1400.3 628.0,1400.2 636.9,1400.0C645.8,1399.8 650.0,1399.4 654.3,1398.8C658.6,1398.2 667.0,1396.4 671.1,1395.2C675.2,1394.0 683.1,1391.0 686.9,1389.3C690.7,1387.6 697.9,1383.5 701.2,1381.3C704.5,1379.1 710.7,1374.1 713.5,1371.4C716.3,1368.7 721.3,1363.0 723.5,1360.0C725.7,1357.0 729.4,1350.7 730.9,1347.4C732.4,1344.1 734.6,1337.3 735.4,1333.9C736.1,1330.5 736.7,1326.7 736.9,1320.0C737.1,1313.3 736.9,1308.2 736.9,1280.0C736.9,1251.8 736.9,1146.1 736.9,1094.8C736.9,1043.5 736.9,897.8 736.9,869.6L736.9,864.6L782.8,864.6L782.8,1413.6L233.3,1413.6Z"/>
<path fill="#454018" d="M233.3,1342.7L238.3,1342.7C240.7,1342.8 252.6,1342.8 257.5,1343.2C262.4,1343.7 272.6,1345.1 277.6,1346.3C282.6,1347.5 293.0,1350.8 297.8,1352.7C302.6,1354.7 311.8,1359.5 316.1,1361.9C320.5,1364.3 328.5,1369.5 332.6,1372.0C336.7,1374.5 344.8,1379.4 349.1,1381.7C353.5,1384.0 362.8,1388.4 367.4,1390.3C372.0,1392.2 381.2,1395.4 385.8,1396.7C390.4,1398.0 399.5,1399.7 404.1,1400.4C408.7,1401.1 416.7,1401.8 422.4,1402.2C428.1,1402.6 436.4,1403.2 449.9,1403.5C463.3,1403.8 511.9,1404.3 530.0,1404.4C548.1,1404.5 578.4,1404.5 594.5,1404.5C610.6,1404.5 648.9,1404.2 659.0,1404.0C669.1,1403.8 671.1,1403.4 675.0,1402.8C678.9,1402.2 686.8,1400.5 690.5,1399.4C694.2,1398.3 701.5,1395.5 705.0,1393.8C708.5,1392.1 715.0,1388.3 718.1,1386.2C721.2,1384.1 726.9,1379.4 729.5,1376.9C732.1,1374.4 736.7,1368.9 738.7,1366.0C740.7,1363.1 744.1,1357.1 745.5,1354.0C746.9,1350.9 748.9,1344.5 749.6,1341.2C750.3,1338.0 750.8,1334.7 751.0,1328.0C751.2,1321.3 751.0,1316.7 751.0,1288.0C751.0,1259.3 751.0,1151.1 751.0,1098.8C751.0,1046.5 751.0,898.2 751.0,869.6L751.0,864.6L782.8,864.6L782.8,1413.6L233.3,1413.6Z"/>
<path fill="#1C1E06" d="M233.3,1373.8L238.3,1373.8C241.9,1374.0 259.7,1374.5 266.7,1375.1C273.7,1375.7 287.2,1377.2 294.1,1378.4C301.0,1379.6 314.7,1383.0 321.6,1384.8C328.5,1386.6 342.2,1391.1 349.1,1393.1C356.0,1395.0 369.7,1398.9 376.6,1400.4C383.5,1401.9 397.2,1404.2 404.1,1405.0C411.0,1405.8 423.6,1406.5 431.6,1406.8C439.6,1407.1 450.0,1407.6 468.0,1407.7C486.0,1407.8 548.8,1407.8 575.8,1407.8C602.7,1407.8 668.3,1407.5 683.5,1407.3C698.7,1407.1 694.0,1406.7 697.4,1406.2C700.8,1405.7 707.6,1404.1 710.9,1403.1C714.2,1402.1 720.5,1399.4 723.5,1397.9C726.5,1396.4 732.2,1392.9 734.9,1390.9C737.6,1389.0 742.6,1384.6 744.8,1382.3C747.0,1380.0 751.1,1374.9 752.8,1372.3C754.5,1369.7 757.5,1364.0 758.7,1361.2C759.9,1358.4 761.7,1352.5 762.3,1349.5C762.9,1346.5 763.4,1343.8 763.5,1337.3C763.6,1330.8 763.5,1326.5 763.5,1297.3C763.5,1268.1 763.5,1156.9 763.5,1103.5C763.5,1050.0 763.5,898.8 763.5,869.6L763.5,864.6L782.8,864.6L782.8,1413.6L233.3,1413.6Z"/>
<path fill="none" d="M400.0,1270.1C401.2,1272.2 407.5,1283.2 410.0,1287.1C412.5,1290.9 416.9,1297.2 420.0,1300.9C423.1,1304.7 431.2,1314.1 435.0,1317.1C438.8,1320.1 445.6,1323.2 450.0,1324.9C454.4,1326.6 465.0,1329.6 470.0,1331.0C475.0,1332.4 485.0,1334.8 490.0,1335.8C495.0,1336.8 505.0,1338.7 510.0,1339.4C515.0,1340.2 523.7,1341.3 530.0,1341.8C536.3,1342.3 553.0,1342.8 560.6,1343.1C568.3,1343.3 586.6,1343.8 591.2,1343.8C595.8,1343.8 596.2,1343.4 597.8,1343.1C599.4,1342.8 602.7,1341.7 604.2,1341.0C605.8,1340.3 608.8,1338.5 610.2,1337.5C611.6,1336.5 614.4,1334.1 615.7,1332.8C617.0,1331.5 619.2,1328.5 620.3,1326.9C621.3,1325.3 623.3,1322.0 624.1,1320.2C624.9,1318.4 626.3,1314.6 626.9,1312.7C627.5,1310.8 628.4,1306.8 628.7,1304.8C629.0,1302.8 629.1,1302.6 629.2,1296.6C629.3,1290.6 629.2,1283.3 629.2,1256.6C629.2,1229.9 629.2,1132.1 629.2,1083.1C629.2,1034.1 629.2,891.9 629.2,864.6" style="stroke-width:1.7;stroke-opacity:0.85"/>
<path fill="none" d="M400.0,1288.7C401.2,1290.5 407.5,1300.1 410.0,1303.5C412.5,1306.9 416.9,1312.7 420.0,1315.8C423.1,1318.9 431.2,1325.9 435.0,1328.3C438.8,1330.7 445.6,1333.6 450.0,1335.2C454.4,1336.8 465.0,1339.8 470.0,1341.0C475.0,1342.2 485.0,1343.9 490.0,1344.8C495.0,1345.7 505.0,1347.3 510.0,1348.0C515.0,1348.7 524.0,1349.7 530.0,1350.2C536.0,1350.7 551.1,1351.7 558.2,1352.0C565.2,1352.4 581.6,1353.3 586.4,1353.3C591.2,1353.3 593.8,1352.9 596.2,1352.4C598.6,1352.0 603.4,1350.6 605.7,1349.7C608.0,1348.8 612.5,1346.5 614.6,1345.2C616.7,1343.9 620.7,1340.9 622.6,1339.2C624.5,1337.5 628.0,1333.7 629.6,1331.7C631.2,1329.7 634.0,1325.4 635.2,1323.1C636.4,1320.8 638.6,1316.1 639.4,1313.6C640.2,1311.1 641.5,1306.0 641.9,1303.4C642.3,1300.8 642.7,1299.2 642.8,1292.9C642.9,1286.6 642.8,1279.4 642.8,1252.9C642.8,1226.4 642.8,1129.8 642.8,1081.2C642.8,1032.7 642.8,891.7 642.8,864.6" style="stroke-width:1.7;stroke-opacity:0.85"/>
<path fill="none" d="M400.0,1302.4C401.2,1304.0 407.5,1312.0 410.0,1314.9C412.5,1317.9 416.9,1323.1 420.0,1326.0C423.1,1328.9 431.2,1335.7 435.0,1337.9C438.8,1340.1 445.6,1342.4 450.0,1343.9C454.4,1345.4 465.0,1348.4 470.0,1349.6C475.0,1350.8 485.0,1352.5 490.0,1353.3C495.0,1354.0 505.0,1355.1 510.0,1355.6C515.0,1356.1 523.9,1357.1 530.0,1357.6C536.1,1358.0 551.7,1358.9 559.0,1359.2C566.2,1359.5 582.9,1360.2 588.0,1360.2C593.1,1360.2 596.9,1359.7 599.8,1359.2C602.7,1358.7 608.4,1357.3 611.2,1356.3C614.0,1355.3 619.4,1352.8 622.0,1351.4C624.6,1350.0 629.4,1346.7 631.7,1344.9C634.0,1343.1 638.2,1339.0 640.1,1336.8C642.0,1334.6 645.4,1330.0 646.9,1327.5C648.4,1325.0 650.9,1319.9 651.9,1317.2C652.9,1314.5 654.4,1309.0 654.9,1306.2C655.4,1303.4 655.9,1301.2 656.0,1294.8C656.1,1288.4 656.0,1281.4 656.0,1254.8C656.0,1228.2 656.0,1131.0 656.0,1082.2C656.0,1033.4 656.0,891.8 656.0,864.6" style="stroke-width:1.7;stroke-opacity:0.85"/>
<path fill="none" d="M400.0,1320.2C401.2,1321.5 407.5,1328.5 410.0,1330.9C412.5,1333.3 416.9,1337.2 420.0,1339.4C423.1,1341.6 431.2,1346.6 435.0,1348.5C438.8,1350.4 445.6,1353.1 450.0,1354.3C454.4,1355.5 465.0,1357.3 470.0,1358.2C475.0,1359.1 485.0,1360.9 490.0,1361.5C495.0,1362.1 505.0,1362.8 510.0,1363.2C515.0,1363.6 523.7,1364.7 530.0,1365.0C536.3,1365.3 552.7,1365.8 560.3,1366.0C567.9,1366.1 585.1,1366.4 590.6,1366.3C596.1,1366.2 600.8,1365.8 604.1,1365.3C607.4,1364.8 614.1,1363.2 617.3,1362.2C620.5,1361.2 626.7,1358.6 629.6,1357.1C632.5,1355.6 638.1,1352.2 640.7,1350.3C643.3,1348.4 648.2,1344.2 650.4,1341.9C652.6,1339.6 656.4,1334.7 658.1,1332.1C659.8,1329.5 662.7,1324.1 663.9,1321.3C665.1,1318.5 666.8,1312.7 667.4,1309.8C668.0,1306.9 668.5,1304.4 668.6,1297.9C668.8,1291.4 668.6,1284.7 668.6,1257.9C668.6,1231.1 668.6,1132.9 668.6,1083.8C668.6,1034.6 668.6,892.0 668.6,864.6" style="stroke-width:1.7;stroke-opacity:0.85"/>
<path fill="none" d="M400.0,1338.2C401.2,1339.2 407.5,1344.2 410.0,1346.0C412.5,1347.8 416.9,1350.9 420.0,1352.4C423.1,1353.9 431.2,1357.0 435.0,1358.3C438.8,1359.6 445.6,1362.0 450.0,1363.0C454.4,1364.0 465.0,1365.4 470.0,1366.1C475.0,1366.8 485.0,1368.4 490.0,1368.9C495.0,1369.5 505.0,1370.1 510.0,1370.5C515.0,1370.9 523.5,1371.7 530.0,1372.0C536.5,1372.3 554.0,1372.6 562.0,1372.6C570.0,1372.7 588.1,1372.8 594.0,1372.7C599.9,1372.6 605.5,1372.1 609.3,1371.6C613.1,1371.1 620.5,1369.5 624.1,1368.4C627.7,1367.3 634.7,1364.6 638.0,1363.1C641.3,1361.5 647.6,1358.0 650.5,1356.0C653.4,1354.0 658.9,1349.6 661.4,1347.2C663.9,1344.8 668.3,1339.7 670.2,1337.0C672.1,1334.3 675.4,1328.6 676.7,1325.7C678.0,1322.8 679.9,1316.8 680.6,1313.7C681.3,1310.7 681.8,1307.8 682.0,1301.3C682.2,1294.8 682.0,1288.3 682.0,1261.3C682.0,1234.3 682.0,1135.0 682.0,1085.5C682.0,1035.9 682.0,892.2 682.0,864.6" style="stroke-width:1.7;stroke-opacity:0.85"/>
<path fill="none" d="M400.0,1353.2C401.2,1354.0 407.5,1357.9 410.0,1359.2C412.5,1360.5 416.9,1362.9 420.0,1364.0C423.1,1365.1 431.2,1367.3 435.0,1368.3C438.8,1369.3 445.6,1371.2 450.0,1372.0C454.4,1372.8 465.0,1373.8 470.0,1374.4C475.0,1375.0 485.0,1376.2 490.0,1376.6C495.0,1377.0 505.0,1377.4 510.0,1377.7C515.0,1378.0 523.1,1378.6 530.0,1378.8C536.9,1379.0 556.7,1379.2 565.6,1379.3C574.5,1379.3 594.7,1379.4 601.2,1379.2C607.7,1379.0 613.5,1378.7 617.5,1378.1C621.5,1377.5 629.5,1375.8 633.3,1374.7C637.1,1373.6 644.7,1370.8 648.2,1369.2C651.7,1367.6 658.5,1363.9 661.6,1361.8C664.7,1359.7 670.6,1355.1 673.2,1352.6C675.8,1350.1 680.6,1344.8 682.6,1342.0C684.6,1339.2 688.1,1333.2 689.5,1330.2C690.9,1327.2 693.1,1320.9 693.8,1317.7C694.5,1314.5 695.0,1311.4 695.2,1304.8C695.4,1298.2 695.2,1292.0 695.2,1264.8C695.2,1237.6 695.2,1137.2 695.2,1087.2C695.2,1037.2 695.2,892.4 695.2,864.6" style="stroke-width:1.7;stroke-opacity:0.85"/>
<path fill="none" d="M400.0,1366.8C401.2,1367.4 407.5,1370.5 410.0,1371.6C412.5,1372.7 416.9,1374.4 420.0,1375.3C423.1,1376.2 431.2,1377.8 435.0,1378.6C438.8,1379.4 445.6,1380.8 450.0,1381.4C454.4,1382.0 465.0,1382.8 470.0,1383.2C475.0,1383.6 485.0,1384.5 490.0,1384.8C495.0,1385.1 505.0,1385.2 510.0,1385.4C515.0,1385.6 522.5,1386.0 530.0,1386.1C537.5,1386.2 559.7,1386.4 569.6,1386.4C579.5,1386.4 602.1,1386.3 609.2,1386.1C616.3,1385.9 622.2,1385.5 626.4,1384.9C630.6,1384.3 639.1,1382.6 643.1,1381.4C647.1,1380.2 655.0,1377.3 658.7,1375.6C662.4,1373.9 669.5,1370.0 672.8,1367.8C676.1,1365.6 682.2,1360.8 685.0,1358.2C687.8,1355.6 692.8,1350.0 694.9,1347.0C697.0,1344.0 700.7,1337.8 702.2,1334.6C703.7,1331.4 706.0,1324.8 706.7,1321.5C707.5,1318.2 708.0,1314.6 708.2,1307.9C708.4,1301.2 708.2,1295.3 708.2,1267.9C708.2,1240.5 708.2,1139.2 708.2,1088.8C708.2,1038.3 708.2,892.6 708.2,864.6" style="stroke-width:1.7;stroke-opacity:0.85"/>
<path fill="none" d="M400.0,1378.8C401.2,1379.3 407.5,1381.7 410.0,1382.5C412.5,1383.3 416.9,1384.6 420.0,1385.3C423.1,1386.0 431.2,1387.2 435.0,1387.8C438.8,1388.4 445.6,1389.5 450.0,1389.9C454.4,1390.3 465.0,1390.8 470.0,1391.1C475.0,1391.4 485.0,1391.9 490.0,1392.1C495.0,1392.3 505.0,1392.4 510.0,1392.5C515.0,1392.6 522.0,1392.9 530.0,1393.0C538.0,1393.1 562.9,1393.3 573.9,1393.3C584.9,1393.4 610.1,1393.3 617.8,1393.1C625.5,1392.9 631.4,1392.5 635.9,1391.9C640.4,1391.3 649.2,1389.4 653.4,1388.2C657.6,1387.0 665.9,1384.0 669.8,1382.2C673.7,1380.4 681.2,1376.4 684.7,1374.1C688.2,1371.8 694.6,1366.7 697.5,1364.0C700.4,1361.3 705.6,1355.5 707.9,1352.4C710.2,1349.3 714.1,1342.8 715.6,1339.5C717.1,1336.2 719.5,1329.3 720.3,1325.8C721.1,1322.3 721.6,1318.5 721.8,1311.7C722.0,1304.9 721.8,1299.3 721.8,1271.7C721.8,1244.1 721.8,1141.5 721.8,1090.6C721.8,1039.8 721.8,892.9 721.8,864.6" style="stroke-width:1.7;stroke-opacity:0.85"/>
<path fill="none" d="M400.0,1389.1C401.2,1389.4 407.5,1391.2 410.0,1391.8C412.5,1392.4 416.9,1393.2 420.0,1393.7C423.1,1394.2 431.2,1395.0 435.0,1395.4C438.8,1395.8 445.6,1396.6 450.0,1396.9C454.4,1397.2 465.0,1397.4 470.0,1397.6C475.0,1397.8 485.0,1398.2 490.0,1398.3C495.0,1398.4 505.0,1398.5 510.0,1398.6C515.0,1398.7 521.0,1398.8 530.0,1398.9C539.0,1399.0 569.0,1399.2 582.0,1399.2C594.9,1399.2 625.2,1399.1 633.9,1398.9C642.6,1398.7 647.2,1398.3 651.5,1397.7C655.8,1397.1 664.4,1395.3 668.5,1394.1C672.6,1392.9 680.6,1389.8 684.4,1388.1C688.2,1386.3 695.4,1382.3 698.8,1380.1C702.2,1377.9 708.5,1372.9 711.3,1370.2C714.1,1367.5 719.2,1361.7 721.4,1358.7C723.6,1355.7 727.3,1349.3 728.8,1346.0C730.3,1342.7 732.6,1335.9 733.4,1332.5C734.2,1329.1 734.7,1325.2 734.9,1318.5C735.1,1311.8 734.9,1306.6 734.9,1278.5C734.9,1250.4 734.9,1145.8 734.9,1094.0C734.9,1042.3 734.9,893.3 734.9,864.6" style="stroke-width:1.7;stroke-opacity:0.85"/>
<path fill="none" d="M400.0,1397.9C401.2,1398.1 407.5,1399.2 410.0,1399.5C412.5,1399.8 416.9,1400.3 420.0,1400.6C423.1,1400.9 431.2,1401.4 435.0,1401.6C438.8,1401.8 445.6,1402.2 450.0,1402.4C454.4,1402.6 465.0,1402.7 470.0,1402.8C475.0,1402.9 485.0,1403.0 490.0,1403.1C495.0,1403.2 505.0,1403.2 510.0,1403.3C515.0,1403.3 519.7,1403.5 530.0,1403.5C540.3,1403.5 576.9,1403.7 592.6,1403.6C608.2,1403.6 645.3,1403.4 655.2,1403.2C665.1,1403.0 667.4,1402.6 671.4,1402.0C675.4,1401.4 683.4,1399.7 687.2,1398.6C691.0,1397.5 698.5,1394.6 702.0,1392.9C705.5,1391.2 712.2,1387.3 715.3,1385.2C718.4,1383.1 724.3,1378.3 726.9,1375.8C729.5,1373.2 734.2,1367.7 736.2,1364.8C738.2,1361.9 741.7,1355.8 743.1,1352.7C744.5,1349.6 746.7,1343.0 747.4,1339.7C748.1,1336.4 748.6,1333.1 748.8,1326.4C749.0,1319.7 748.8,1315.0 748.8,1286.4C748.8,1257.9 748.8,1150.7 748.8,1098.0C748.8,1045.3 748.8,893.8 748.8,864.6" style="stroke-width:1.7;stroke-opacity:0.85"/>
<path fill="none" d="M400.0,1403.4C401.2,1403.5 407.5,1404.3 410.0,1404.5C412.5,1404.7 416.9,1405.0 420.0,1405.2C423.1,1405.4 431.2,1405.9 435.0,1406.1C438.8,1406.3 445.6,1406.4 450.0,1406.5C454.4,1406.6 465.0,1406.8 470.0,1406.9C475.0,1407.0 485.0,1407.0 490.0,1407.0C495.0,1407.0 505.0,1407.0 510.0,1407.0C515.0,1407.0 518.2,1407.0 530.0,1407.0C541.8,1407.0 586.0,1407.2 604.6,1407.1C623.2,1407.1 668.1,1406.8 679.2,1406.6C690.3,1406.4 690.0,1406.1 693.5,1405.6C697.0,1405.1 704.0,1403.4 707.4,1402.3C710.8,1401.2 717.3,1398.6 720.4,1397.1C723.5,1395.6 729.5,1392.0 732.2,1390.0C734.9,1388.0 740.0,1383.6 742.3,1381.2C744.6,1378.8 748.8,1373.7 750.6,1371.0C752.4,1368.3 755.4,1362.7 756.6,1359.8C757.8,1356.9 759.7,1350.8 760.3,1347.8C760.9,1344.8 761.4,1341.9 761.6,1335.4C761.8,1328.9 761.6,1324.5 761.6,1295.4C761.6,1266.3 761.6,1156.4 761.6,1102.5C761.6,1048.7 761.6,894.3 761.6,864.6" style="stroke-width:1.7;stroke-opacity:0.85"/>
</g>
<path d="M239.6,869.7V1408.6" fill="none" stroke="#6e6e6e" stroke-width="2.6"/>
<path d="M238.3,1408.9H779.4" fill="none" stroke="#b4b4b4" stroke-width="1.6"/>
<path d="M238.3,1407.1H779.2" fill="none" stroke="#2a2a2a" stroke-width="2.2"/>
<g class="f" clip-path="url(#cp3)">
<rect x="1049.3" y="869.6" width="538.5" height="539.0" fill="#48687F" stroke="none"/>
<path fill="#778B9C" d="M1044.3,883.8L1049.3,883.8C1050.4,885.4 1056.7,892.8 1058.3,896.7C1059.9,900.6 1062.0,910.0 1062.0,915.0C1062.0,920.0 1059.9,932.2 1058.3,937.0C1056.7,941.8 1050.4,951.4 1049.3,953.5L1044.3,953.5Z"/>
<path fill="#1A4668" d="M1044.3,1057.9L1049.3,1057.9C1051.6,1055.6 1062.5,1044.4 1067.5,1039.6C1072.5,1034.8 1084.2,1022.0 1089.5,1019.4C1094.8,1016.8 1105.9,1017.1 1109.6,1018.5C1113.3,1019.9 1116.3,1027.1 1118.8,1030.4C1121.3,1033.7 1127.5,1040.5 1129.8,1045.1C1132.1,1049.7 1135.3,1061.6 1137.1,1067.1C1138.9,1072.6 1142.7,1083.0 1144.5,1089.1C1146.3,1095.2 1150.0,1109.2 1151.8,1116.0C1153.6,1122.8 1157.0,1136.4 1159.1,1143.8C1161.2,1151.2 1166.0,1167.2 1168.3,1175.0C1170.6,1182.8 1175.1,1198.3 1177.4,1206.1C1179.7,1213.9 1184.3,1229.7 1186.6,1237.3C1188.9,1244.9 1193.5,1260.2 1195.8,1266.6C1198.1,1273.0 1202.6,1283.5 1204.9,1288.6C1207.2,1293.7 1211.8,1303.1 1214.1,1307.3C1216.4,1311.5 1219.9,1317.9 1223.3,1322.0C1226.7,1326.1 1237.0,1336.4 1241.6,1340.3C1246.2,1344.2 1255.3,1349.7 1259.9,1353.1C1264.5,1356.5 1274.1,1363.9 1278.2,1367.8C1282.3,1371.7 1289.9,1381.1 1292.9,1384.3C1295.9,1387.5 1299.7,1391.9 1302.0,1393.5C1304.3,1395.1 1308.0,1396.4 1311.2,1397.0C1314.4,1397.6 1319.7,1398.1 1327.5,1398.0C1335.3,1397.9 1362.2,1396.8 1373.3,1396.5C1384.4,1396.2 1410.7,1395.6 1416.0,1395.5L1424.0,1395.5L1424.0,1413.6L1044.3,1413.6Z"/>
<path fill="#07213D" d="M1044.3,1157.6L1049.3,1157.6C1051.6,1156.9 1062.5,1153.0 1067.5,1152.1C1072.5,1151.2 1084.5,1149.6 1089.5,1150.2C1094.5,1150.8 1103.7,1154.3 1107.8,1156.7C1111.9,1159.1 1119.1,1165.6 1122.5,1169.5C1125.9,1173.4 1132.1,1182.5 1135.3,1187.8C1138.5,1193.1 1145.1,1205.9 1148.1,1211.6C1151.1,1217.3 1156.1,1227.6 1159.1,1233.6C1162.1,1239.6 1168.5,1252.4 1171.9,1259.3C1175.3,1266.2 1183.2,1282.0 1186.6,1288.6C1190.0,1295.2 1196.0,1306.5 1199.4,1312.4C1202.8,1318.4 1210.0,1330.7 1214.1,1336.2C1218.2,1341.7 1227.8,1351.6 1232.4,1356.4C1237.0,1361.2 1247.3,1371.0 1250.7,1374.7C1254.1,1378.4 1258.3,1382.7 1259.9,1385.7C1261.5,1388.7 1262.6,1396.2 1263.6,1398.5C1264.6,1400.8 1263.5,1403.2 1268.0,1404.0C1272.5,1404.8 1281.5,1404.6 1300.0,1404.5C1318.5,1404.4 1401.5,1403.6 1416.0,1403.5L1424.0,1403.5L1424.0,1413.6L1044.3,1413.6Z"/>
<path fill="#778B9C" d="M1250.7,864.6L1250.7,869.6C1250.7,873.0 1250.6,889.9 1250.4,896.7C1250.2,903.5 1249.3,917.2 1248.9,924.1C1248.5,931.0 1247.4,945.4 1247.1,951.6C1246.8,957.8 1246.9,968.6 1246.2,973.6C1245.5,978.6 1243.3,987.8 1241.6,991.9C1239.9,996.0 1235.2,1002.9 1232.4,1006.6C1229.7,1010.3 1223.0,1017.6 1219.6,1021.3C1216.2,1025.0 1207.9,1034.4 1204.9,1035.9C1201.9,1037.4 1198.3,1034.2 1195.8,1033.2C1193.3,1032.2 1186.9,1027.1 1184.8,1027.7C1182.7,1028.3 1180.5,1033.6 1179.3,1037.8C1178.1,1042.0 1176.2,1054.0 1175.6,1061.6C1175.0,1069.1 1174.7,1090.3 1174.7,1098.2C1174.8,1106.1 1175.4,1118.5 1176.0,1125.0C1176.6,1131.5 1178.2,1142.6 1179.3,1150.0C1180.4,1157.4 1183.2,1175.0 1184.8,1184.1C1186.4,1193.2 1190.0,1213.2 1192.1,1222.6C1194.2,1232.0 1199.0,1251.5 1201.3,1259.3C1203.6,1267.1 1207.7,1278.7 1210.4,1284.9C1213.2,1291.1 1219.4,1303.1 1223.3,1308.8C1227.2,1314.5 1237.0,1326.2 1241.6,1330.8C1246.2,1335.4 1254.2,1341.5 1259.9,1345.4C1265.6,1349.3 1280.5,1358.0 1287.4,1361.9C1294.3,1365.9 1308.8,1373.9 1314.9,1377.0C1321.1,1380.1 1330.4,1384.9 1336.6,1386.6C1342.8,1388.3 1354.2,1389.8 1364.1,1390.3C1374.0,1390.8 1409.5,1390.3 1416.0,1390.3L1424.0,1390.3L1424.0,864.6Z"/>
<path fill="#A2ACB6" d="M1350.4,864.6L1350.4,869.6C1350.5,873.0 1351.0,889.9 1350.9,896.7C1350.8,903.5 1350.1,917.2 1349.5,924.1C1348.9,931.0 1347.1,944.7 1345.8,951.6C1344.5,958.5 1341.5,972.2 1339.4,979.1C1337.3,986.0 1332.2,999.7 1329.3,1006.6C1326.4,1013.5 1320.4,1027.4 1316.5,1034.1C1312.6,1040.8 1302.8,1053.8 1298.0,1060.0C1293.2,1066.2 1283.0,1078.8 1278.2,1083.6C1273.4,1088.4 1264.2,1094.5 1259.9,1098.2C1255.6,1101.9 1248.0,1110.7 1243.4,1112.9C1238.8,1115.1 1228.1,1114.0 1223.3,1115.6C1218.5,1117.2 1207.9,1122.2 1204.9,1125.7C1201.9,1129.2 1200.3,1139.1 1199.4,1144.0C1198.5,1148.9 1197.9,1160.0 1197.8,1165.0C1197.7,1170.0 1198.1,1177.1 1198.5,1184.1C1198.9,1191.1 1200.0,1211.6 1201.3,1220.8C1202.6,1230.0 1206.5,1249.4 1208.6,1257.4C1210.7,1265.4 1214.8,1278.5 1217.8,1284.9C1220.8,1291.3 1228.3,1303.5 1232.4,1308.8C1236.5,1314.1 1245.0,1322.5 1250.7,1327.1C1256.4,1331.7 1271.3,1341.3 1278.2,1345.4C1285.1,1349.5 1299.5,1356.9 1305.7,1360.1C1311.9,1363.3 1321.3,1368.7 1327.5,1371.1C1333.7,1373.5 1348.1,1377.8 1355.0,1379.3C1361.9,1380.8 1374.9,1382.4 1382.5,1383.0C1390.1,1383.6 1411.8,1383.8 1416.0,1383.9L1424.0,1383.9L1424.0,864.6Z"/>
<path fill="#D0D1D5" d="M1413.6,864.6L1413.6,869.6C1413.4,873.0 1412.5,889.9 1411.8,896.7C1411.1,903.5 1409.2,917.2 1408.1,924.1C1406.9,931.0 1404.2,944.7 1402.6,951.6C1401.0,958.5 1397.4,972.2 1395.3,979.1C1393.2,986.0 1388.6,999.7 1386.1,1006.6C1383.6,1013.5 1378.1,1027.2 1375.1,1034.1C1372.1,1041.0 1365.7,1055.2 1362.3,1061.6C1358.9,1068.0 1351.3,1079.9 1347.6,1085.4C1343.9,1090.9 1336.7,1101.0 1333.0,1105.6C1329.3,1110.2 1321.8,1118.6 1318.0,1122.5C1314.2,1126.4 1307.3,1133.2 1303.0,1137.0C1298.7,1140.8 1289.1,1149.4 1283.7,1153.0C1278.3,1156.6 1264.9,1163.2 1259.9,1165.8C1254.9,1168.4 1247.8,1172.8 1243.4,1174.1C1239.1,1175.4 1228.3,1174.2 1225.1,1175.9C1221.9,1177.6 1219.3,1184.0 1217.8,1187.8C1216.3,1191.6 1213.9,1200.8 1213.2,1206.1C1212.5,1211.4 1212.0,1223.6 1212.3,1230.0C1212.6,1236.4 1214.5,1251.0 1215.9,1257.4C1217.3,1263.8 1221.0,1275.6 1223.3,1281.3C1225.6,1287.0 1230.9,1298.3 1234.3,1303.3C1237.7,1308.3 1245.2,1317.2 1250.7,1321.6C1256.2,1325.9 1271.7,1334.6 1278.2,1338.1C1284.7,1341.6 1296.8,1346.6 1303.0,1349.5C1309.2,1352.4 1321.0,1358.4 1327.5,1361.0C1334.0,1363.6 1348.1,1368.4 1355.0,1370.1C1361.9,1371.8 1374.9,1373.9 1382.5,1374.7C1390.1,1375.5 1411.8,1376.4 1416.0,1376.6L1424.0,1376.6L1424.0,864.6Z"/>
<path fill="#F3F0EC" d="M1424.0,1021.3L1416.0,1021.3C1415.2,1023.6 1411.7,1034.6 1410.0,1039.6C1408.3,1044.6 1404.7,1056.1 1402.6,1061.6C1400.5,1067.1 1396.0,1078.1 1393.5,1083.6C1391.0,1089.1 1385.5,1100.3 1382.5,1105.6C1379.5,1110.9 1373.0,1120.9 1369.6,1125.7C1366.2,1130.5 1358.7,1139.9 1355.0,1144.0C1351.3,1148.1 1343.9,1154.9 1340.0,1158.5C1336.1,1162.1 1328.3,1169.4 1324.0,1173.1C1319.7,1176.8 1310.7,1184.1 1305.7,1187.8C1300.7,1191.5 1289.4,1199.8 1283.7,1202.5C1278.0,1205.2 1265.2,1207.7 1259.9,1209.8C1254.6,1211.9 1245.5,1216.7 1241.6,1219.0C1237.7,1221.3 1231.0,1225.4 1228.8,1228.1C1226.6,1230.8 1224.7,1236.6 1224.2,1240.9C1223.7,1245.2 1224.1,1257.4 1225.1,1262.9C1226.1,1268.4 1229.9,1279.6 1232.4,1284.9C1234.9,1290.2 1241.3,1300.5 1245.2,1305.1C1249.1,1309.7 1258.3,1317.9 1263.6,1321.6C1268.9,1325.3 1282.0,1331.7 1287.4,1334.4C1292.8,1337.1 1302.0,1340.8 1307.0,1343.0C1312.0,1345.2 1321.5,1349.5 1327.5,1351.8C1333.5,1354.0 1348.1,1359.2 1355.0,1361.0C1361.9,1362.8 1374.9,1365.5 1382.5,1366.5C1390.1,1367.5 1411.8,1368.9 1416.0,1369.2L1424.0,1369.2Z"/>
<path fill="#D6CFC1" d="M1424.0,1096.4L1416.0,1096.4C1415.2,1098.5 1411.9,1108.6 1410.0,1112.9C1408.1,1117.2 1403.5,1126.7 1400.8,1131.2C1398.0,1135.8 1391.4,1144.5 1388.0,1149.3C1384.6,1154.1 1377.4,1164.5 1373.3,1169.5C1369.2,1174.5 1359.6,1185.0 1355.0,1189.6C1350.4,1194.2 1341.2,1202.4 1336.6,1206.1C1332.0,1209.8 1322.9,1216.1 1318.3,1219.0C1313.7,1221.9 1303.9,1227.4 1300.0,1229.5C1296.1,1231.6 1291.7,1233.7 1287.4,1235.5C1283.1,1237.3 1270.0,1241.9 1265.4,1243.7C1260.8,1245.5 1253.6,1247.9 1250.7,1250.1C1247.8,1252.3 1243.4,1257.4 1242.5,1261.1C1241.6,1264.8 1242.4,1274.8 1243.4,1279.4C1244.4,1284.0 1248.0,1293.5 1250.7,1297.8C1253.5,1302.1 1260.8,1310.5 1265.4,1314.2C1270.0,1317.9 1282.2,1324.5 1287.4,1327.1C1292.6,1329.7 1302.0,1333.0 1307.0,1335.0C1312.0,1337.0 1321.5,1340.6 1327.5,1342.7C1333.5,1344.8 1348.1,1350.0 1355.0,1351.8C1361.9,1353.6 1374.9,1356.3 1382.5,1357.3C1390.1,1358.3 1411.8,1359.8 1416.0,1360.1L1424.0,1360.1Z"/>
<path fill="#AFA68E" d="M1424.0,1151.4L1416.0,1151.4C1414.8,1153.2 1409.3,1161.5 1406.3,1165.8C1403.2,1170.1 1395.7,1181.0 1391.6,1186.0C1387.5,1191.0 1377.9,1201.5 1373.3,1206.1C1368.7,1210.7 1359.6,1218.7 1355.0,1222.6C1350.4,1226.5 1341.2,1234.1 1336.6,1237.3C1332.0,1240.5 1322.9,1245.9 1318.3,1248.3C1313.7,1250.7 1303.9,1254.4 1300.0,1256.5C1296.1,1258.6 1291.5,1262.6 1287.4,1264.8C1283.3,1267.0 1270.4,1271.4 1267.2,1273.9C1264.0,1276.4 1261.9,1281.9 1261.7,1284.9C1261.5,1287.9 1263.3,1294.4 1265.4,1297.8C1267.5,1301.2 1274.3,1309.2 1278.2,1312.4C1282.1,1315.6 1291.6,1320.7 1296.6,1323.0C1301.6,1325.3 1313.3,1329.1 1318.3,1331.0C1323.3,1332.9 1330.9,1336.2 1336.6,1338.1C1342.3,1340.0 1357.2,1344.7 1364.1,1346.3C1371.0,1347.9 1385.1,1350.1 1391.6,1350.9C1398.1,1351.7 1413.0,1352.5 1416.0,1352.7L1424.0,1352.7Z"/>
<path fill="#8E835C" d="M1424.0,1192.4L1416.0,1192.4C1414.8,1193.9 1409.3,1200.8 1406.3,1204.3C1403.2,1207.8 1395.7,1216.7 1391.6,1220.8C1387.5,1224.9 1377.9,1233.4 1373.3,1237.3C1368.7,1241.2 1359.6,1248.5 1355.0,1251.9C1350.4,1255.3 1341.2,1262.0 1336.6,1264.8C1332.0,1267.5 1322.9,1271.6 1318.3,1273.9C1313.7,1276.2 1303.3,1281.1 1300.0,1283.1C1296.7,1285.1 1292.8,1288.1 1291.5,1290.0C1290.2,1291.9 1289.3,1296.1 1289.5,1298.0C1289.7,1299.9 1291.7,1303.4 1293.0,1305.0C1294.3,1306.6 1296.8,1308.5 1300.0,1310.6C1303.2,1312.7 1313.7,1319.1 1318.3,1321.6C1322.9,1324.1 1332.0,1328.8 1336.6,1330.7C1341.2,1332.7 1349.3,1335.7 1355.0,1337.2C1360.7,1338.7 1374.9,1341.7 1382.5,1342.7C1390.1,1343.7 1411.8,1345.1 1416.0,1345.4L1424.0,1345.4Z"/>
<path fill="#6D6130" d="M1424.0,1224.5L1416.0,1224.5C1414.1,1226.3 1405.0,1235.4 1400.8,1239.1C1396.6,1242.8 1387.1,1250.1 1382.5,1253.8C1377.9,1257.5 1368.7,1265.0 1364.1,1268.4C1359.5,1271.8 1350.4,1278.3 1345.8,1281.3C1341.2,1284.3 1330.7,1290.2 1327.5,1292.3C1324.3,1294.4 1321.1,1296.5 1320.0,1298.0C1318.9,1299.5 1318.5,1302.0 1319.0,1304.0C1319.5,1306.0 1321.1,1311.8 1323.8,1314.2C1326.5,1316.6 1335.7,1321.3 1340.3,1323.4C1344.9,1325.5 1355.2,1329.2 1360.5,1330.7C1365.8,1332.2 1375.6,1334.4 1382.5,1335.3C1389.4,1336.2 1411.8,1337.8 1416.0,1338.1L1424.0,1338.1Z"/>
<path fill="#454018" d="M1424.0,1251.0L1416.0,1251.0C1414.8,1252.0 1409.3,1256.9 1406.3,1259.3C1403.2,1261.7 1395.7,1267.3 1391.6,1270.3C1387.5,1273.3 1377.9,1279.7 1373.3,1283.1C1368.7,1286.5 1358.0,1295.3 1355.0,1297.8C1352.0,1300.3 1349.8,1301.7 1349.0,1303.0C1348.2,1304.3 1348.1,1306.9 1348.6,1308.5C1349.1,1310.1 1350.5,1314.2 1353.1,1316.1C1355.7,1318.0 1365.2,1321.9 1369.6,1323.4C1374.0,1324.9 1382.2,1327.2 1388.0,1328.0C1393.8,1328.8 1412.5,1329.6 1416.0,1329.8L1424.0,1329.8Z"/>
<path fill="#1C1E06" d="M1424.0,1273.0L1416.0,1273.0C1414.6,1274.3 1407.5,1280.5 1404.5,1283.1C1401.5,1285.7 1394.5,1291.6 1391.6,1294.1C1388.7,1296.6 1382.6,1301.3 1381.0,1303.0C1379.4,1304.7 1378.4,1306.4 1379.0,1308.0C1379.6,1309.6 1383.4,1314.5 1386.1,1316.1C1388.8,1317.7 1397.1,1319.9 1400.8,1320.7C1404.5,1321.5 1414.1,1322.3 1416.0,1322.5L1424.0,1322.5Z"/>
<path fill="#07213D" d="M1424.0,864.6H1592.8V1413.6H1424.0Z" stroke="none"/>
<path fill="#06080b" d="M1414.3,864.6L1432.0,864.6L1432.0,1382.0C1432.0,1395.0 1429.0,1402.5 1420.0,1403.5L1300.0,1405.5L1300.0,1404.0L1416.4,1398.0Z" stroke="#06080b" stroke-width="0.8"/>
</g>
<path d="M1050.6,869.7V1408.6" fill="none" stroke="#6e6e6e" stroke-width="2.6"/>
<path d="M1049.3,1408.9H1589.4" fill="none" stroke="#b4b4b4" stroke-width="1.6"/>
<path d="M1049.3,1407.1H1589.2" fill="none" stroke="#2a2a2a" stroke-width="2.2"/>
<g id="colorbars">
<rect x="802.8" y="142.4" width="48.6" height="532.2" fill="url(#cb)"/><rect x="801.1" y="140.7" width="52.0" height="535.6" fill="none" stroke="#2a2a2a" stroke-width="5.4"/><path d="M850.7,201.9h-5.2" stroke="#2a2a2a" stroke-width="2.8"/><path d="M850.7,313.3h-5.2" stroke="#2a2a2a" stroke-width="2.8"/><path d="M850.7,424.8h-5.2" stroke="#2a2a2a" stroke-width="2.8"/><path d="M850.7,536.0h-5.2" stroke="#2a2a2a" stroke-width="2.8"/><path d="M850.7,647.5h-5.2" stroke="#2a2a2a" stroke-width="2.8"/>
<rect x="1610.9" y="142.4" width="48.6" height="532.2" fill="url(#cb)"/><rect x="1609.2" y="140.7" width="52.0" height="535.6" fill="none" stroke="#2a2a2a" stroke-width="5.4"/><path d="M1658.8,187.9h-5.2" stroke="#2a2a2a" stroke-width="2.8"/><path d="M1658.8,350.6h-5.2" stroke="#2a2a2a" stroke-width="2.8"/><path d="M1658.8,513.3h-5.2" stroke="#2a2a2a" stroke-width="2.8"/>
<rect x="802.8" y="871.3" width="48.6" height="532.2" fill="url(#cb)"/><rect x="801.1" y="869.6" width="52.0" height="535.6" fill="none" stroke="#2a2a2a" stroke-width="5.4"/><path d="M850.7,956.2h-5.2" stroke="#2a2a2a" stroke-width="2.8"/><path d="M850.7,1068.6h-5.2" stroke="#2a2a2a" stroke-width="2.8"/><path d="M850.7,1181.2h-5.2" stroke="#2a2a2a" stroke-width="2.8"/><path d="M850.7,1293.6h-5.2" stroke="#2a2a2a" stroke-width="2.8"/>
<rect x="1610.9" y="871.3" width="48.6" height="532.2" fill="url(#cb)"/><rect x="1609.2" y="869.6" width="52.0" height="535.6" fill="none" stroke="#2a2a2a" stroke-width="5.4"/><path d="M1658.8,981.3h-5.2" stroke="#2a2a2a" stroke-width="2.8"/><path d="M1658.8,1122.8h-5.2" stroke="#2a2a2a" stroke-width="2.8"/><path d="M1658.8,1264.3h-5.2" stroke="#2a2a2a" stroke-width="2.8"/>
</g>
<g id="labels">
<text class="t" x="342.5" y="123.5">Temp. / K</text>
<text class="t" x="1169.3" y="91.4">Y-CO</text>
<text class="t s" x="1344.5" y="124.4">2</text>
<text class="t" x="1402.5" y="91.4">/</text>
<text class="t" x="1445.2" y="91.4">-</text>
<text class="t" x="271.5" y="821.1">Y-Pt(acac)</text>
<text class="t s" x="621.9" y="854.7">2</text>
<text class="t" x="679.5" y="821.1">/</text>
<text class="t" x="722.2" y="821.1">-</text>
<text class="t" x="1134.8" y="821.1">I</text>
<text class="t s" x="1162.9" y="853.9">p</text>
<text class="t" x="1221.4" y="821.1">/</text>
<text class="t" x="1264.5" y="821.1">#/m</text>
<text class="t s" x="1408.7" y="787.3">3</text>
<text class="t" x="1444.1" y="821.1">/s</text>
<text class="k x" x="852.0" y="828.7">×</text>
<text class="k c" x="901.5" y="826.4">10</text>
<text class="k s2" x="979.2" y="796.2">-4</text>
<text class="k x" x="1660.5" y="828.7">×</text>
<text class="k c" x="1710.0" y="826.4">10</text>
<text class="k s2" x="1789.1" y="796.2">20</text>
<text class="k" x="227.5" y="166.2" text-anchor="end">1</text>
<text class="k" x="227.5" y="895.8" text-anchor="end">1</text>
<text class="k" x="227.5" y="272.5" text-anchor="end">0.8</text>
<text class="k" x="227.5" y="1002.1" text-anchor="end">0.8</text>
<text class="k" x="227.5" y="379.7" text-anchor="end">0.6</text>
<text class="k" x="227.5" y="1109.3" text-anchor="end">0.6</text>
<text class="k" x="227.5" y="486.6" text-anchor="end">0.4</text>
<text class="k" x="227.5" y="1216.2" text-anchor="end">0.4</text>
<text class="k" x="227.5" y="593.4" text-anchor="end">0.2</text>
<text class="k" x="227.5" y="1323.0" text-anchor="end">0.2</text>
<text class="k" x="227.5" y="700.2" text-anchor="end">0</text>
<text class="k" x="227.5" y="1429.8" text-anchor="end">0</text>
<text class="k" transform="translate(93.2,427.8) rotate(-90)">c</text>
<text class="k" transform="translate(93.2,1157.4) rotate(-90)">c</text>
<text class="k" x="240.0" y="1484.7" text-anchor="middle">0</text>
<text class="k" x="393.6" y="1484.7" text-anchor="middle">0.2</text>
<text class="k" x="547.0" y="1484.7" text-anchor="middle">0.4</text>
<text class="k" x="700.4" y="1484.7" text-anchor="middle">0.6</text>
<text class="k" x="479.2" y="1565.2">f</text>
<text class="k s" x="504.5" y="1599.4">1</text>
<text class="k" x="1051.0" y="1484.7" text-anchor="middle">0</text>
<text class="k" x="1204.6" y="1484.7" text-anchor="middle">0.2</text>
<text class="k" x="1358.0" y="1484.7" text-anchor="middle">0.4</text>
<text class="k" x="1511.4" y="1484.7" text-anchor="middle">0.6</text>
<text class="k" x="1290.2" y="1565.2">f</text>
<text class="k s" x="1315.5" y="1599.4">1</text>
<text class="k c" x="884.4" y="223.5">2500</text>
<text class="k c" x="884.4" y="335.0">2000</text>
<text class="k c" x="884.4" y="446.5">1500</text>
<text class="k c" x="884.4" y="557.8">1000</text>
<text class="k c" x="884.4" y="669.0">500</text>
<text class="k c" x="1693.5" y="210.6">0.3</text>
<text class="k c" x="1693.5" y="373.1">0.2</text>
<text class="k c" x="1693.5" y="535.6">0.1</text>
<text class="k c" x="1693.5" y="698.1">0</text>
<text class="k c" x="884.4" y="978.0">8</text>
<text class="k c" x="884.4" y="1090.5">6</text>
<text class="k c" x="884.4" y="1203.0">4</text>
<text class="k c" x="884.4" y="1315.5">2</text>
<text class="k c" x="884.4" y="1428.0">0</text>
<text class="k c" x="1693.5" y="1003.5">6</text>
<text class="k c" x="1693.5" y="1145.0">4</text>
<text class="k c" x="1693.5" y="1286.5">2</text>
<text class="k c" x="1693.5" y="1428.0">0</text>
</g>
</g>
<use id="soft" href="#all"/>
</svg>
</body></html>
